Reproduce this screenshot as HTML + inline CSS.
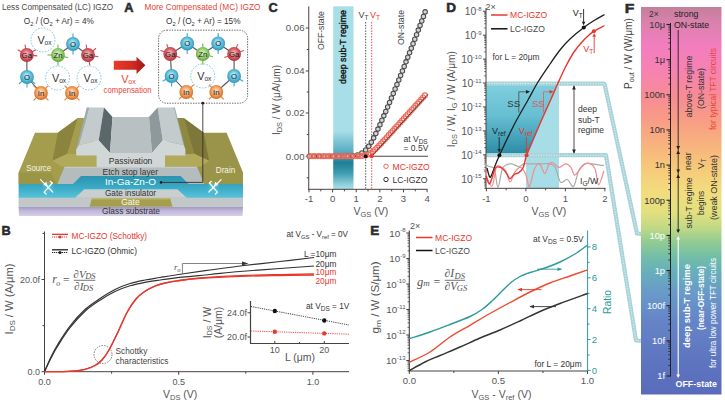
<!DOCTYPE html>
<html><head><meta charset="utf-8"><style>
html,body{margin:0;padding:0;background:#fff;width:725px;height:400px;overflow:hidden}
svg{display:block}
text{font-family:"Liberation Sans", sans-serif}
</style></head><body>
<svg width="725" height="400" viewBox="0 0 725 400">
<rect width="725" height="400" fill="#fff"/>
<defs>
<linearGradient id="gSub" x1="0" y1="0" x2="0" y2="1"><stop offset="0" stop-color="#9c94bc"/><stop offset="0.35" stop-color="#bab2d4"/><stop offset="1" stop-color="#d6d0e8"/></linearGradient>
<linearGradient id="gCy" x1="0" y1="0" x2="0" y2="1"><stop offset="0" stop-color="#2b93ae"/><stop offset="0.5" stop-color="#3aa9c4"/><stop offset="1" stop-color="#58c2da"/></linearGradient>
<radialGradient id="gGlow" cx="0.5" cy="0.5" r="0.5"><stop offset="0" stop-color="#7fe0ea" stop-opacity="0.9"/><stop offset="1" stop-color="#7fe0ea" stop-opacity="0"/></radialGradient>
</defs>
<path d="M18.60,206.60 L243.00,206.60 L242.50,216.00 L19.00,216.00 Z" fill="url(#gSub)" />
<path d="M18.60,197.00 L243.00,197.00 L243.00,206.80 L18.60,206.80 Z" fill="#c2c8c8" />
<path d="M73.00,197.00 L81.00,189.50 L180.60,189.50 L188.60,197.00 Z" fill="#c9cfcf" />
<path d="M89.50,206.80 L92.00,198.00 L170.00,198.00 L172.50,206.80 Z" fill="#a59e4f" />
<path d="M92.00,198.00 L170.00,198.00 L169.60,199.40 L92.40,199.40 Z" fill="#bdb66a" />
<path d="M50.00,184.00 L58.00,166.60 L203.60,166.60 L211.60,184.00 Z" fill="#b5bcbd" />
<path d="M64.60,166.60 L197.00,166.60 L196.40,168.00 L64.00,168.00 Z" fill="#c4cacb" />
<path d="M18.60,184.00 L73.00,184.00 L81.00,176.00 L180.60,176.00 L188.60,184.00 L243.00,184.00 L243.00,197.80 L186.60,197.80 L177.60,189.50 L84.00,189.50 L75.00,197.80 L18.60,197.80 Z" fill="url(#gCy)" />
<path d="M18.60,184.00 L18.60,172.50 L35.00,132.80 L57.80,132.80 L77.90,117.90 L90.00,117.90 L97.00,155.50 L97.00,166.60 L64.60,166.60 L57.40,184.00 Z" fill="#a39d4d" />
<path d="M18.60,184.00 L18.60,172.50 L50.50,172.50 L57.40,184.00 Z" fill="#9b9548" />
<path d="M57.80,132.80 L77.90,117.90 L67.40,153.80 L52.50,160.80 Z" fill="#8a843f" />
<path d="M77.90,117.90 L88.00,117.90 L88.00,155.50 L67.40,153.80 Z" fill="#a49d4f" />
<path d="M52.50,160.80 L67.40,153.80 L97.00,155.50 L97.00,166.60 L64.60,166.60 L61.00,166.60 Z" fill="#b2aa5b" />
<path d="M243.00,184.00 L243.00,172.50 L226.60,132.80 L203.80,132.80 L183.70,117.90 L171.60,117.90 L164.60,155.50 L164.60,166.60 L197.00,166.60 L204.20,184.00 Z" fill="#9a944a" />
<path d="M243.00,184.00 L243.00,172.50 L211.10,172.50 L204.20,184.00 Z" fill="#9b9548" />
<path d="M203.80,132.80 L183.70,117.90 L194.20,153.80 L209.10,160.80 Z" fill="#7d7839" />
<path d="M183.70,117.90 L173.60,117.90 L173.60,155.50 L194.20,153.80 Z" fill="#8f893f" />
<path d="M209.10,160.80 L194.20,153.80 L164.60,155.50 L164.60,166.60 L197.00,166.60 L200.60,166.60 Z" fill="#b2aa5b" />
<path d="M86.70,107.50 L89.50,107.50 L79.00,149.40 L76.20,149.40 Z" fill="#9eaaae" />
<path d="M174.90,107.50 L172.10,107.50 L182.60,149.40 L185.40,149.40 Z" fill="#9eaaae" />
<path d="M89.50,107.50 L104.00,107.50 L98.70,140.50 L79.00,145.00 Z" fill="#c4cbcc" />
<path d="M157.60,107.50 L173.90,107.50 L183.50,145.00 L162.80,140.50 Z" fill="#c4cbcc" />
<path d="M104.00,107.50 L112.50,117.00 L110.00,153.00 L98.70,140.50 Z" fill="#5c6769" />
<path d="M112.50,117.00 L149.00,117.00 L152.00,153.00 L110.00,153.00 Z" fill="#b8c0c1" />
<path d="M149.00,117.00 L157.60,107.50 L162.80,140.50 L152.00,153.00 Z" fill="#8e999b" />
<path d="M79.00,145.00 L98.70,140.50 L110.00,153.00 L152.00,153.00 L162.80,140.50 L183.50,145.00 L185.40,149.40 L185.40,155.50 L165.00,155.50 L165.00,166.60 L96.60,166.60 L96.60,155.50 L76.20,155.50 L76.20,149.40 Z" fill="#d1d6d6" />
<text x="130.6" y="163.8" font-size="8.6" fill="#333" text-anchor="middle" textLength="43.5" lengthAdjust="spacingAndGlyphs" >Passivation</text>
<text x="130.3" y="174.5" font-size="8.6" fill="#333" text-anchor="middle" textLength="55.5" lengthAdjust="spacingAndGlyphs" >Etch stop layer</text>
<text x="130.5" y="185.2" font-size="9.6" fill="#fff" text-anchor="middle" textLength="51" lengthAdjust="spacingAndGlyphs" >In-Ga-Zn-O</text>
<text x="130.5" y="195.6" font-size="8.6" fill="#333" text-anchor="middle" textLength="51" lengthAdjust="spacingAndGlyphs" >Gate insulator</text>
<text x="130.4" y="205.2" font-size="8.8" fill="#fcfcf4" text-anchor="middle" textLength="18.5" lengthAdjust="spacingAndGlyphs" >Gate</text>
<text x="131" y="213.6" font-size="8.6" fill="#333" text-anchor="middle" textLength="58" lengthAdjust="spacingAndGlyphs" >Glass substrate</text>
<text x="38.7" y="171.3" font-size="8.6" fill="#f6f4e6" text-anchor="middle" textLength="25" lengthAdjust="spacingAndGlyphs" >Source</text>
<text x="225.5" y="172.5" font-size="8.6" fill="#f6f4e6" text-anchor="middle" textLength="19.5" lengthAdjust="spacingAndGlyphs" >Drain</text>
<circle cx="48.2" cy="187" r="7" fill="url(#gGlow)" opacity="0.5"/>
<line x1="40.5" y1="179.6" x2="52.8" y2="192" stroke="#fff" stroke-width="1.2" stroke-linecap="round"/>
<line x1="44.2" y1="192.2" x2="52.2" y2="183" stroke="#fff" stroke-width="1.2" stroke-linecap="round"/>
<line x1="52.2" y1="183" x2="50.3" y2="181.3" stroke="#fff" stroke-width="1.2" stroke-linecap="round"/>
<line x1="44.2" y1="192.2" x2="46.1" y2="194" stroke="#fff" stroke-width="1.2" stroke-linecap="round"/>
<path d="M47.90,186.40 L46.30,181.70 L43.20,184.90 Z" fill="#fff"/>
<circle cx="213.40000000000003" cy="187" r="7" fill="url(#gGlow)" opacity="0.5"/>
<line x1="221.10000000000002" y1="179.6" x2="208.8" y2="192" stroke="#fff" stroke-width="1.2" stroke-linecap="round"/>
<line x1="217.40000000000003" y1="192.2" x2="209.40000000000003" y2="183" stroke="#fff" stroke-width="1.2" stroke-linecap="round"/>
<line x1="209.40000000000003" y1="183" x2="211.3" y2="181.3" stroke="#fff" stroke-width="1.2" stroke-linecap="round"/>
<line x1="217.40000000000003" y1="192.2" x2="215.50000000000003" y2="194" stroke="#fff" stroke-width="1.2" stroke-linecap="round"/>
<path d="M213.70,186.40 L215.30,181.70 L218.40,184.90 Z" fill="#fff"/>
<text x="2" y="10.3" font-size="8.4" fill="#4a4a4a" textLength="111" lengthAdjust="spacingAndGlyphs" >Less Compensated (LC) IGZO</text>
<text x="124.3" y="12" font-size="13" fill="#2a2a2a" font-weight="bold" textLength="9.2" lengthAdjust="spacingAndGlyphs" stroke="#2a2a2a" stroke-width="0.55">A</text>
<text x="144.5" y="10.3" font-size="8.4" fill="#e8453a" textLength="116" lengthAdjust="spacingAndGlyphs" >More Compensated (MC) IGZO</text>
<text x="23.8" y="23.6" font-size="8.6" fill="#333" textLength="70" lengthAdjust="spacingAndGlyphs" >O<tspan dy="2" font-size="6">2</tspan><tspan dy="-2"> / (O</tspan><tspan dy="2" font-size="6">2</tspan><tspan dy="-2"> + Ar) = 4%</tspan></text>
<text x="166" y="23.6" font-size="8.6" fill="#333" textLength="74.5" lengthAdjust="spacingAndGlyphs" >O<tspan dy="2" font-size="6">2</tspan><tspan dy="-2"> / (O</tspan><tspan dy="2" font-size="6">2</tspan><tspan dy="-2"> + Ar) = 15%</tspan></text>
<defs><radialGradient id="atGa" cx="0.5" cy="0.46" r="0.56" fx="0.46" fy="0.4"><stop offset="0" stop-color="#f6c4c4"/><stop offset="0.55" stop-color="#d9646c"/><stop offset="1" stop-color="#ac2e36"/></radialGradient><radialGradient id="atO" cx="0.5" cy="0.46" r="0.56" fx="0.46" fy="0.4"><stop offset="0" stop-color="#d4f5fb"/><stop offset="0.55" stop-color="#62c2de"/><stop offset="1" stop-color="#2a8fb2"/></radialGradient><radialGradient id="atZn" cx="0.5" cy="0.46" r="0.56" fx="0.46" fy="0.4"><stop offset="0" stop-color="#e4f6cc"/><stop offset="0.55" stop-color="#9cd274"/><stop offset="1" stop-color="#5a9e36"/></radialGradient><radialGradient id="atIn" cx="0.5" cy="0.46" r="0.56" fx="0.46" fy="0.4"><stop offset="0" stop-color="#fee2c8"/><stop offset="0.55" stop-color="#f3a464"/><stop offset="1" stop-color="#cf641c"/></radialGradient>
<linearGradient id="gArrow" x1="0" y1="0" x2="1" y2="0"><stop offset="0" stop-color="#ea3a2a"/><stop offset="0.6" stop-color="#d02a22"/><stop offset="1" stop-color="#a01616"/></linearGradient>
</defs>
<line x1="26.8" y1="55" x2="27" y2="77" stroke="#555" stroke-width="1.1" />
<line x1="27" y1="77" x2="41" y2="93" stroke="#555" stroke-width="1.1" />
<line x1="58" y1="55" x2="73" y2="44" stroke="#555" stroke-width="1.1" />
<line x1="73" y1="44" x2="88" y2="55" stroke="#555" stroke-width="1.1" />
<circle cx="43" cy="40" r="12" fill="none" stroke="#6cc0dc" stroke-width="0.9" stroke-dasharray="1.6,1.4"/>
<text x="37.5" y="43.6" font-size="10.8" fill="#333" >V</text>
<text x="44.6" y="45.2" font-size="6.6" fill="#333" >ox</text>
<circle cx="57.6" cy="78" r="12" fill="none" stroke="#6cc0dc" stroke-width="0.9" stroke-dasharray="1.6,1.4"/>
<text x="52.1" y="81.6" font-size="10.8" fill="#333" >V</text>
<text x="59.2" y="83.2" font-size="6.6" fill="#333" >ox</text>
<circle cx="89" cy="78" r="12" fill="none" stroke="#6cc0dc" stroke-width="0.9" stroke-dasharray="1.6,1.4"/>
<text x="83.5" y="81.6" font-size="10.8" fill="#333" >V</text>
<text x="90.6" y="83.2" font-size="6.6" fill="#333" >ox</text>
<line x1="25.96127930186873" y1="50.243378552951036" x2="24.976694134497233" y2="44.659518593371814" stroke="#d84850" stroke-width="1.1" />
<line x1="22.617097299721163" y1="52.585" x2="17.706733260263395" y2="49.75" stroke="#d84850" stroke-width="1.1" />
<line x1="30.98290270027884" y1="52.585" x2="35.8932667397366" y2="49.75" stroke="#d84850" stroke-width="1.1" />
<line x1="31.61162039178313" y1="55.42096223747119" x2="37.26004432996333" y2="55.91513529885041" stroke="#d84850" stroke-width="1.1" />
<circle cx="26.8" cy="55" r="6.9" fill="url(#atGa)"/>
<text x="26.8" y="57.8" font-size="7.8" fill="#1a1a1a" text-anchor="middle" >Ga</text>
<line x1="58.0" y1="50.17" x2="58.0" y2="44.5" stroke="#72b844" stroke-width="1.1" />
<line x1="58.0" y1="59.83" x2="58.0" y2="65.5" stroke="#72b844" stroke-width="1.1" />
<line x1="62.6654217409762" y1="56.25009598784518" x2="68.14222117603522" y2="57.71759997357647" stroke="#72b844" stroke-width="1.1" />
<line x1="53.17" y1="55.0" x2="47.5" y2="55.0" stroke="#72b844" stroke-width="1.1" />
<circle cx="58" cy="55" r="6.9" fill="url(#atZn)"/>
<text x="58" y="57.8" font-size="7.8" fill="#1a1a1a" text-anchor="middle" >Zn</text>
<line x1="73.0" y1="39.17" x2="73.0" y2="33.5" stroke="#3aaad0" stroke-width="1.1" />
<line x1="73.0" y1="48.83" x2="73.0" y2="54.5" stroke="#3aaad0" stroke-width="1.1" />
<circle cx="73" cy="44" r="6.9" fill="url(#atO)"/>
<text x="73" y="46.8" font-size="7.8" fill="#1a1a1a" text-anchor="middle" >O</text>
<line x1="87.16127930186873" y1="50.243378552951036" x2="86.17669413449723" y2="44.659518593371814" stroke="#d84850" stroke-width="1.1" />
<line x1="91.69999466026466" y1="51.895335845214014" x2="96.04346665274927" y2="48.250730098291335" stroke="#d84850" stroke-width="1.1" />
<line x1="92.75662144704897" y1="55.838720698131276" x2="98.34048140662819" y2="56.82330586550277" stroke="#d84850" stroke-width="1.1" />
<line x1="88.83872069813127" y1="59.756621447048964" x2="89.82330586550277" y2="65.34048140662819" stroke="#d84850" stroke-width="1.1" />
<circle cx="88" cy="55" r="6.9" fill="url(#atGa)"/>
<text x="88" y="57.8" font-size="7.8" fill="#1a1a1a" text-anchor="middle" >Ga</text>
<line x1="27.0" y1="81.83" x2="27.0" y2="87.5" stroke="#3aaad0" stroke-width="1.1" />
<line x1="23.300005339735335" y1="80.10466415478598" x2="18.956533347250733" y2="83.74926990170866" stroke="#3aaad0" stroke-width="1.1" />
<line x1="30.699994660264665" y1="80.10466415478598" x2="35.04346665274927" y2="83.74926990170866" stroke="#3aaad0" stroke-width="1.1" />
<circle cx="27" cy="77" r="6.9" fill="url(#atO)"/>
<text x="27" y="79.8" font-size="7.8" fill="#1a1a1a" text-anchor="middle" >O</text>
<line x1="44.41532575313102" y1="89.58467424686897" x2="48.42462120245875" y2="85.57537879754125" stroke="#f07a2a" stroke-width="1.1" />
<line x1="37.58467424686898" y1="96.41532575313103" x2="33.57537879754125" y2="100.42462120245875" stroke="#f07a2a" stroke-width="1.1" />
<line x1="44.41532575313102" y1="96.41532575313103" x2="48.42462120245875" y2="100.42462120245875" stroke="#f07a2a" stroke-width="1.1" />
<line x1="37.58467424686898" y1="89.58467424686897" x2="33.57537879754125" y2="85.57537879754125" stroke="#f07a2a" stroke-width="1.1" />
<circle cx="41" cy="93" r="6.9" fill="url(#atIn)"/>
<text x="41" y="95.8" font-size="7.8" fill="#1a1a1a" text-anchor="middle" >In</text>
<line x1="75.41532575313103" y1="89.58467424686897" x2="79.42462120245875" y2="85.57537879754125" stroke="#f07a2a" stroke-width="1.1" />
<line x1="68.58467424686897" y1="96.41532575313103" x2="64.57537879754125" y2="100.42462120245875" stroke="#f07a2a" stroke-width="1.1" />
<line x1="75.41532575313103" y1="96.41532575313103" x2="79.42462120245875" y2="100.42462120245875" stroke="#f07a2a" stroke-width="1.1" />
<line x1="68.58467424686897" y1="89.58467424686897" x2="64.57537879754125" y2="85.57537879754125" stroke="#f07a2a" stroke-width="1.1" />
<circle cx="72" cy="93" r="6.9" fill="url(#atIn)"/>
<text x="72" y="95.8" font-size="7.8" fill="#1a1a1a" text-anchor="middle" >In</text>
<path d="M113.8,60.8 L136.5,60.8 L136.5,56.7 L145.4,65.3 L136.5,73.9 L136.5,69.8 L113.8,69.8 Z" fill="url(#gArrow)"/>
<text x="121.3" y="82.5" font-size="11" fill="#e8453a" >V</text>
<text x="128.3" y="84.3" font-size="7" fill="#e8453a" >ox</text>
<text x="127.6" y="92.6" font-size="8.6" fill="#e8453a" text-anchor="middle" textLength="48" lengthAdjust="spacingAndGlyphs" >compensation</text>
<rect x="158.6" y="30.2" width="89" height="73" rx="8" fill="none" stroke="#555" stroke-width="0.9" stroke-dasharray="1.4,1.2"/>
<line x1="170.3" y1="54" x2="187.2" y2="43.5" stroke="#555" stroke-width="1.1" />
<line x1="187.2" y1="43.5" x2="202.8" y2="54" stroke="#555" stroke-width="1.1" />
<line x1="202.8" y1="54" x2="218.2" y2="43.5" stroke="#555" stroke-width="1.1" />
<line x1="218.2" y1="43.5" x2="234.1" y2="54" stroke="#555" stroke-width="1.1" />
<line x1="170.3" y1="54" x2="171.6" y2="76" stroke="#555" stroke-width="1.1" />
<line x1="171.6" y1="76" x2="186.3" y2="92" stroke="#555" stroke-width="1.1" />
<line x1="234.1" y1="54" x2="234.1" y2="76" stroke="#555" stroke-width="1.1" />
<line x1="234.1" y1="76" x2="216.3" y2="92" stroke="#555" stroke-width="1.1" />
<circle cx="202.8" cy="76" r="12" fill="none" stroke="#6cc0dc" stroke-width="0.9" stroke-dasharray="1.6,1.4"/>
<text x="197.3" y="79.6" font-size="10.8" fill="#333" >V</text>
<text x="204.4" y="81.2" font-size="6.6" fill="#333" >ox</text>
<line x1="168.64804270773703" y1="49.46128464160406" x2="166.70878849508048" y2="44.133227481747966" stroke="#d84850" stroke-width="1.1" />
<line x1="165.76128464160408" y1="52.34804270773702" x2="160.43322748174796" y2="50.40878849508048" stroke="#d84850" stroke-width="1.1" />
<line x1="174.83871535839594" y1="55.65195729226298" x2="180.16677251825206" y2="57.59121150491952" stroke="#d84850" stroke-width="1.1" />
<circle cx="170.3" cy="54" r="6.9" fill="url(#atGa)"/>
<text x="170.3" y="56.8" font-size="7.8" fill="#1a1a1a" text-anchor="middle" >Ga</text>
<line x1="187.2" y1="38.67" x2="187.2" y2="33.0" stroke="#3aaad0" stroke-width="1.1" />
<line x1="187.2" y1="48.33" x2="187.2" y2="54.0" stroke="#3aaad0" stroke-width="1.1" />
<circle cx="187.2" cy="43.5" r="6.9" fill="url(#atO)"/>
<text x="187.2" y="46.3" font-size="7.8" fill="#1a1a1a" text-anchor="middle" >O</text>
<line x1="202.8" y1="49.17" x2="202.8" y2="43.5" stroke="#72b844" stroke-width="1.1" />
<line x1="202.8" y1="58.83" x2="202.8" y2="64.5" stroke="#72b844" stroke-width="1.1" />
<line x1="207.4654217409762" y1="55.25009598784518" x2="212.94222117603522" y2="56.71759997357647" stroke="#72b844" stroke-width="1.1" />
<circle cx="202.8" cy="54" r="6.9" fill="url(#atZn)"/>
<text x="202.8" y="56.8" font-size="7.8" fill="#1a1a1a" text-anchor="middle" >Zn</text>
<line x1="218.2" y1="38.67" x2="218.2" y2="33.0" stroke="#3aaad0" stroke-width="1.1" />
<line x1="218.2" y1="48.33" x2="218.2" y2="54.0" stroke="#3aaad0" stroke-width="1.1" />
<circle cx="218.2" cy="43.5" r="6.9" fill="url(#atO)"/>
<text x="218.2" y="46.3" font-size="7.8" fill="#1a1a1a" text-anchor="middle" >O</text>
<line x1="235.75195729226297" y1="49.46128464160407" x2="237.69121150491952" y2="44.133227481747966" stroke="#d84850" stroke-width="1.1" />
<line x1="238.63871535839593" y1="52.34804270773702" x2="243.96677251825204" y2="50.40878849508048" stroke="#d84850" stroke-width="1.1" />
<line x1="229.56128464160406" y1="55.65195729226298" x2="224.23322748174795" y2="57.59121150491952" stroke="#d84850" stroke-width="1.1" />
<circle cx="234.1" cy="54" r="6.9" fill="url(#atGa)"/>
<text x="234.1" y="56.8" font-size="7.8" fill="#1a1a1a" text-anchor="middle" >Ga</text>
<line x1="171.6" y1="80.83" x2="171.6" y2="86.5" stroke="#3aaad0" stroke-width="1.1" />
<line x1="167.41709729972115" y1="78.415" x2="162.5067332602634" y2="81.25" stroke="#3aaad0" stroke-width="1.1" />
<circle cx="171.6" cy="76" r="6.9" fill="url(#atO)"/>
<text x="171.6" y="78.8" font-size="7.8" fill="#1a1a1a" text-anchor="middle" >O</text>
<line x1="234.1" y1="80.83" x2="234.1" y2="86.5" stroke="#3aaad0" stroke-width="1.1" />
<line x1="238.28290270027884" y1="78.415" x2="243.1932667397366" y2="81.25" stroke="#3aaad0" stroke-width="1.1" />
<circle cx="234.1" cy="76" r="6.9" fill="url(#atO)"/>
<text x="234.1" y="78.8" font-size="7.8" fill="#1a1a1a" text-anchor="middle" >O</text>
<line x1="189.71532575313103" y1="88.58467424686897" x2="193.72462120245876" y2="84.57537879754125" stroke="#f07a2a" stroke-width="1.1" />
<line x1="182.884674246869" y1="95.41532575313103" x2="178.87537879754126" y2="99.42462120245875" stroke="#f07a2a" stroke-width="1.1" />
<line x1="189.71532575313103" y1="95.41532575313103" x2="193.72462120245876" y2="99.42462120245875" stroke="#f07a2a" stroke-width="1.1" />
<circle cx="186.3" cy="92" r="6.9" fill="url(#atIn)"/>
<text x="186.3" y="94.8" font-size="7.8" fill="#1a1a1a" text-anchor="middle" >In</text>
<line x1="212.884674246869" y1="88.58467424686897" x2="208.87537879754126" y2="84.57537879754125" stroke="#f07a2a" stroke-width="1.1" />
<line x1="219.71532575313103" y1="95.41532575313103" x2="223.72462120245876" y2="99.42462120245875" stroke="#f07a2a" stroke-width="1.1" />
<line x1="212.884674246869" y1="95.41532575313103" x2="208.87537879754126" y2="99.42462120245875" stroke="#f07a2a" stroke-width="1.1" />
<circle cx="216.3" cy="92" r="6.9" fill="url(#atIn)"/>
<text x="216.3" y="94.8" font-size="7.8" fill="#1a1a1a" text-anchor="middle" >In</text>
<circle cx="202.8" cy="103.2" r="1.4" fill="#222"/>
<path d="M202.8,103.5 L202.8,182.4 L161,182.4" fill="none" stroke="#3a3030" stroke-width="0.9"/>
<circle cx="161" cy="182.4" r="1.3" fill="#222"/>
<text x="1.5" y="234.5" font-size="13.5" fill="#2a2a2a" font-weight="bold" textLength="9.2" lengthAdjust="spacingAndGlyphs" stroke="#2a2a2a" stroke-width="0.55">B</text>
<line x1="44.5" y1="231.5" x2="44.5" y2="372.2" stroke="#4a4040" stroke-width="1" />
<line x1="44.0" y1="371.7" x2="349" y2="371.7" stroke="#4a4040" stroke-width="1" />
<line x1="41.5" y1="371.7" x2="44.5" y2="371.7" stroke="#4a4040" stroke-width="1" />
<line x1="42.5" y1="325.6" x2="44.5" y2="325.6" stroke="#4a4040" stroke-width="1" />
<line x1="41.5" y1="279.5" x2="44.5" y2="279.5" stroke="#4a4040" stroke-width="1" />
<line x1="42.5" y1="233.4" x2="44.5" y2="233.4" stroke="#4a4040" stroke-width="1" />
<line x1="44.5" y1="371.7" x2="44.5" y2="374.7" stroke="#4a4040" stroke-width="1" />
<line x1="111.6" y1="371.7" x2="111.6" y2="373.7" stroke="#4a4040" stroke-width="1" />
<line x1="178.7" y1="371.7" x2="178.7" y2="374.7" stroke="#4a4040" stroke-width="1" />
<line x1="245.8" y1="371.7" x2="245.8" y2="373.7" stroke="#4a4040" stroke-width="1" />
<line x1="312.9" y1="371.7" x2="312.9" y2="374.7" stroke="#4a4040" stroke-width="1" />
<text x="40" y="375" font-size="9" fill="#555" text-anchor="end" >0.0</text>
<text x="40" y="282.8" font-size="9" fill="#555" text-anchor="end" >20.0f</text>
<text x="44.5" y="385" font-size="9" fill="#555" text-anchor="middle" >0.0</text>
<text x="178.7" y="385" font-size="9" fill="#555" text-anchor="middle" >0.5</text>
<text x="312.9" y="385" font-size="9" fill="#555" text-anchor="middle" >1.0</text>
<text x="163" y="397.5" font-size="10.5" fill="#555" >V<tspan dy="2" font-size="7.5">DS</tspan><tspan dy="-2"> (V)</tspan></text>
<text x="13.2" y="299" font-size="10.5" fill="#555" text-anchor="middle" textLength="71" lengthAdjust="spacingAndGlyphs" transform="rotate(-90 13.2 299)" >I<tspan dy="2" font-size="7.5">DS</tspan><tspan dy="-2"> / W (A/μm)</tspan></text>
<line x1="52" y1="234.3" x2="68" y2="234.3" stroke="#e8372c" stroke-width="1.3" />
<line x1="52" y1="237" x2="68" y2="237" stroke="#e8372c" stroke-width="1" stroke-dasharray="1.2,0.8"/>
<circle cx="60" cy="237" r="1.6" fill="#e8372c"/>
<text x="71.5" y="238.8" font-size="8.3" fill="#e8372c" >MC-IGZO (Schottky)</text>
<line x1="52" y1="249.8" x2="68" y2="249.8" stroke="#222" stroke-width="1.3" />
<line x1="52" y1="252.5" x2="68" y2="252.5" stroke="#222" stroke-width="1" stroke-dasharray="1.2,0.8"/>
<circle cx="60" cy="252.5" r="1.6" fill="#222"/>
<text x="71.5" y="254.3" font-size="8.3" fill="#333" >LC-IGZO (Ohmic)</text>
<text x="52.3" y="283.3" font-size="12" fill="#555" font-style="italic" style="font-family:'Liberation Serif', serif" >r</text>
<text x="56.3" y="285.5" font-size="8" fill="#555" font-style="italic" style="font-family:'Liberation Serif', serif" >o</text>
<text x="63" y="284" font-size="11.5" fill="#555" style="font-family:'Liberation Serif', serif" >=</text>
<text x="73.6" y="277.7" font-size="11" fill="#555" font-style="italic" style="font-family:'Liberation Serif', serif" >∂V</text>
<text x="85.2" y="279.2" font-size="8.5" fill="#555" font-style="italic" style="font-family:'Liberation Serif', serif" >DS</text>
<line x1="73.8" y1="280.3" x2="95.3" y2="280.3" stroke="#666" stroke-width="0.9" />
<text x="74.3" y="289.8" font-size="11" fill="#555" font-style="italic" style="font-family:'Liberation Serif', serif" >∂I</text>
<text x="82.8" y="291.4" font-size="8.5" fill="#555" font-style="italic" style="font-family:'Liberation Serif', serif" >DS</text>
<path d="M44.50,371.70 C45.58,369.25 48.75,361.62 51.00,357.00 C53.25,352.38 54.83,349.17 58.00,344.00 C61.17,338.83 65.50,331.75 70.00,326.00 C74.50,320.25 80.00,314.08 85.00,309.50 C90.00,304.92 95.00,301.83 100.00,298.50 C105.00,295.17 110.00,292.00 115.00,289.50 C120.00,287.00 125.00,285.08 130.00,283.50 C135.00,281.92 140.00,281.00 145.00,280.00 C150.00,279.00 153.83,278.50 160.00,277.50 C166.17,276.50 173.67,275.25 182.00,274.00 C190.33,272.75 200.33,271.33 210.00,270.00 C219.67,268.67 228.33,267.42 240.00,266.00 C251.67,264.58 267.67,262.92 280.00,261.50 C292.33,260.08 308.33,258.17 314.00,257.50" fill="none" stroke="#333" stroke-width="1.2"/>
<path d="M44.50,371.70 C45.58,369.42 48.75,362.37 51.00,358.00 C53.25,353.63 54.83,350.55 58.00,345.50 C61.17,340.45 65.50,333.42 70.00,327.70 C74.50,321.98 80.00,315.78 85.00,311.20 C90.00,306.62 95.00,303.48 100.00,300.20 C105.00,296.92 110.00,293.90 115.00,291.50 C120.00,289.10 125.00,287.33 130.00,285.80 C135.00,284.27 140.00,283.27 145.00,282.30 C150.00,281.33 153.83,280.85 160.00,280.00 C166.17,279.15 173.67,278.12 182.00,277.20 C190.33,276.28 200.33,275.45 210.00,274.50 C219.67,273.55 228.33,272.50 240.00,271.50 C251.67,270.50 267.67,269.42 280.00,268.50 C292.33,267.58 308.33,266.42 314.00,266.00" fill="none" stroke="#333" stroke-width="1.2"/>
<path d="M44.50,371.70 C47.08,371.68 55.42,371.68 60.00,371.60 C64.58,371.52 67.83,371.57 72.00,371.20 C76.17,370.83 81.17,370.35 85.00,369.40 C88.83,368.45 92.17,367.07 95.00,365.50 C97.83,363.93 99.67,362.58 102.00,360.00 C104.33,357.42 106.33,354.67 109.00,350.00 C111.67,345.33 115.00,338.25 118.00,332.00 C121.00,325.75 124.00,318.00 127.00,312.50 C130.00,307.00 133.00,302.53 136.00,299.00 C139.00,295.47 141.83,293.47 145.00,291.30 C148.17,289.13 151.67,287.38 155.00,286.00 C158.33,284.62 161.17,283.90 165.00,283.00 C168.83,282.10 172.17,281.43 178.00,280.60 C183.83,279.77 189.67,278.82 200.00,278.00 C210.33,277.18 226.67,276.27 240.00,275.70 C253.33,275.13 267.67,274.88 280.00,274.60 C292.33,274.32 308.33,274.10 314.00,274.00" fill="none" stroke="#e8372c" stroke-width="1.3"/>
<path d="M44.50,371.70 C47.08,371.68 55.42,371.68 60.00,371.60 C64.58,371.52 67.83,371.57 72.00,371.20 C76.17,370.83 81.17,370.35 85.00,369.40 C88.83,368.45 92.17,367.07 95.00,365.50 C97.83,363.93 99.67,362.58 102.00,360.00 C104.33,357.42 106.33,354.67 109.00,350.00 C111.67,345.33 115.00,338.25 118.00,332.00 C121.00,325.75 124.00,318.00 127.00,312.50 C130.00,307.00 133.00,302.53 136.00,299.00 C139.00,295.47 141.83,293.46 145.00,291.30 C148.17,289.14 151.67,287.40 155.00,286.04 C158.33,284.67 161.17,283.98 165.00,283.11 C168.83,282.24 172.17,281.60 178.00,280.80 C183.83,280.01 189.67,279.11 200.00,278.37 C210.33,277.62 226.67,276.83 240.00,276.36 C253.33,275.89 267.67,275.74 280.00,275.55 C292.33,275.36 308.33,275.26 314.00,275.20" fill="none" stroke="#e8372c" stroke-width="1.3"/>
<path d="M182.4,273.8 L182.4,263.5 L246,263.5" fill="none" stroke="#666" stroke-width="0.8"/>
<path d="M242,261.6 L248.5,263.5 L242,265.4 Z" fill="#333"/>
<text x="174" y="269.5" font-size="9" fill="#555" font-style="italic" style="font-family:'Liberation Serif', serif" >r</text>
<text x="177.3" y="271.8" font-size="6.5" fill="#555" font-style="italic" style="font-family:'Liberation Serif', serif" >o</text>
<text x="304" y="256.8" font-size="8.3" fill="#333" >L =10μm</text>
<text x="315.5" y="267" font-size="8.3" fill="#333" >20μm</text>
<text x="315.5" y="275.2" font-size="8.3" fill="#e8372c" >10μm</text>
<text x="315.5" y="283.5" font-size="8.3" fill="#e8372c" >20μm</text>
<text x="286.5" y="237" font-size="8.3" fill="#333" textLength="61.5" lengthAdjust="spacingAndGlyphs" >at V<tspan dy="2" font-size="6">GS</tspan><tspan dy="-2"> - V</tspan><tspan dy="2" font-size="6">ref</tspan><tspan dy="-2"> = 0V</tspan></text>
<circle cx="103" cy="354.5" r="9" fill="none" stroke="#555" stroke-width="0.8" stroke-dasharray="1.5,1.2"/>
<text x="115.5" y="354" font-size="8.3" fill="#444" >Schottky</text>
<text x="115.5" y="364" font-size="8.3" fill="#444" >characteristics</text>
<line x1="250.5" y1="301" x2="250.5" y2="344.0" stroke="#4a4040" stroke-width="1.2" />
<line x1="250.0" y1="343.5" x2="349" y2="343.5" stroke="#4a4040" stroke-width="1.2" />
<line x1="247.5" y1="312.8" x2="250.5" y2="312.8" stroke="#4a4040" stroke-width="1" />
<line x1="247.5" y1="337" x2="250.5" y2="337" stroke="#4a4040" stroke-width="1" />
<line x1="274.8" y1="341.0" x2="274.8" y2="343.5" stroke="#4a4040" stroke-width="1" />
<line x1="324.3" y1="341.0" x2="324.3" y2="343.5" stroke="#4a4040" stroke-width="1" />
<line x1="299.5" y1="342.0" x2="299.5" y2="343.5" stroke="#4a4040" stroke-width="1" />
<text x="247" y="316" font-size="9" fill="#555" text-anchor="end" >24.0f</text>
<text x="247" y="340.2" font-size="9" fill="#555" text-anchor="end" >20.0f</text>
<text x="274.8" y="353" font-size="9" fill="#555" text-anchor="middle" >10</text>
<text x="324.3" y="353" font-size="9" fill="#555" text-anchor="middle" >20</text>
<text x="300" y="361" font-size="10.5" fill="#555" text-anchor="middle" >L (μm)</text>
<text x="210.5" y="322.5" font-size="10.5" fill="#555" text-anchor="middle" transform="rotate(-90 210.5 322.5)" >I<tspan dy="1.5" font-size="7">DS</tspan><tspan dy="-1.5"> / W</tspan></text>
<text x="221.5" y="322.5" font-size="10.5" fill="#555" text-anchor="middle" transform="rotate(-90 221.5 322.5)" >(A/μm)</text>
<line x1="251" y1="306.5" x2="349" y2="325" stroke="#333" stroke-width="0.9" stroke-dasharray="1.2,1"/>
<line x1="251" y1="331" x2="349" y2="334.2" stroke="#e8372c" stroke-width="0.9" stroke-dasharray="1.2,1"/>
<circle cx="274.8" cy="311" r="2.2" fill="#111"/>
<circle cx="324.3" cy="320.5" r="2.2" fill="#111"/>
<circle cx="274.8" cy="331.8" r="2.2" fill="#e8372c"/>
<circle cx="324.3" cy="333.4" r="2.2" fill="#e8372c"/>
<text x="306" y="308.5" font-size="8.3" fill="#333" >at V<tspan dy="2" font-size="6.5">DS</tspan><tspan dy="-2"> = 1V</tspan></text>
<text x="268.6" y="11.8" font-size="13" fill="#2a2a2a" font-weight="bold" textLength="9.2" lengthAdjust="spacingAndGlyphs" stroke="#2a2a2a" stroke-width="0.55">C</text>
<defs><linearGradient id="gC" x1="0" y1="0" x2="0" y2="1" gradientUnits="objectBoundingBox">
<stop offset="0" stop-color="#a8dee7"/><stop offset="0.68" stop-color="#a8dee7"/>
<stop offset="0.79" stop-color="#5aafc4"/><stop offset="0.855" stop-color="#1f7f97"/>
<stop offset="0.91" stop-color="#3d9bb2"/><stop offset="0.985" stop-color="#9ed8e3"/><stop offset="1" stop-color="#a8dee7"/>
</linearGradient></defs>
<rect x="333.2" y="6.3" width="20.3" height="183.0" fill="url(#gC)"/>
<line x1="308.75" y1="6.4" x2="308.75" y2="189.8" stroke="#4a4040" stroke-width="1" />
<line x1="308.25" y1="189.3" x2="427.5" y2="189.3" stroke="#4a4040" stroke-width="1" />
<line x1="305.75" y1="28" x2="308.75" y2="28" stroke="#4a4040" stroke-width="1" />
<line x1="306.75" y1="49.5" x2="308.75" y2="49.5" stroke="#4a4040" stroke-width="1" />
<line x1="305.75" y1="71" x2="308.75" y2="71" stroke="#4a4040" stroke-width="1" />
<line x1="306.75" y1="92" x2="308.75" y2="92" stroke="#4a4040" stroke-width="1" />
<line x1="305.75" y1="113" x2="308.75" y2="113" stroke="#4a4040" stroke-width="1" />
<line x1="306.75" y1="134.6" x2="308.75" y2="134.6" stroke="#4a4040" stroke-width="1" />
<line x1="305.75" y1="156.25" x2="308.75" y2="156.25" stroke="#4a4040" stroke-width="1" />
<line x1="306.75" y1="177.8" x2="308.75" y2="177.8" stroke="#4a4040" stroke-width="1" />
<line x1="308.98" y1="189.3" x2="308.98" y2="192.3" stroke="#4a4040" stroke-width="1" />
<line x1="320.79" y1="189.3" x2="320.79" y2="191.3" stroke="#4a4040" stroke-width="1" />
<line x1="332.6" y1="189.3" x2="332.6" y2="192.3" stroke="#4a4040" stroke-width="1" />
<line x1="344.41" y1="189.3" x2="344.41" y2="191.3" stroke="#4a4040" stroke-width="1" />
<line x1="356.22" y1="189.3" x2="356.22" y2="192.3" stroke="#4a4040" stroke-width="1" />
<line x1="368.03000000000003" y1="189.3" x2="368.03000000000003" y2="191.3" stroke="#4a4040" stroke-width="1" />
<line x1="379.84000000000003" y1="189.3" x2="379.84000000000003" y2="192.3" stroke="#4a4040" stroke-width="1" />
<line x1="391.65000000000003" y1="189.3" x2="391.65000000000003" y2="191.3" stroke="#4a4040" stroke-width="1" />
<line x1="403.46000000000004" y1="189.3" x2="403.46000000000004" y2="192.3" stroke="#4a4040" stroke-width="1" />
<line x1="415.27000000000004" y1="189.3" x2="415.27000000000004" y2="191.3" stroke="#4a4040" stroke-width="1" />
<line x1="427.08000000000004" y1="189.3" x2="427.08000000000004" y2="192.3" stroke="#4a4040" stroke-width="1" />
<text x="304.5" y="31.3" font-size="9.6" fill="#555" text-anchor="end" >0.06</text>
<text x="304.5" y="74.3" font-size="9.6" fill="#555" text-anchor="end" >0.04</text>
<text x="304.5" y="116.3" font-size="9.6" fill="#555" text-anchor="end" >0.02</text>
<text x="304.5" y="159.55" font-size="9.6" fill="#555" text-anchor="end" >0.00</text>
<text x="308.98" y="202" font-size="9.6" fill="#555" text-anchor="middle" >-1</text>
<text x="332.6" y="202" font-size="9.6" fill="#555" text-anchor="middle" >0</text>
<text x="356.22" y="202" font-size="9.6" fill="#555" text-anchor="middle" >1</text>
<text x="379.84000000000003" y="202" font-size="9.6" fill="#555" text-anchor="middle" >2</text>
<text x="403.46000000000004" y="202" font-size="9.6" fill="#555" text-anchor="middle" >3</text>
<text x="427.08000000000004" y="202" font-size="9.6" fill="#555" text-anchor="middle" >4</text>
<text x="353.5" y="214.5" font-size="10.5" fill="#555" >V<tspan dy="2" font-size="7.5">GS</tspan><tspan dy="-2"> (V)</tspan></text>
<text x="279.5" y="100" font-size="10.3" fill="#555" text-anchor="middle" textLength="70" lengthAdjust="spacingAndGlyphs" transform="rotate(-90 279.5 100)" >I<tspan dy="2" font-size="7.5">DS</tspan><tspan dy="-2"> / W (μA/μm)</tspan></text>
<text x="346.3" y="47" font-size="8.8" fill="#111" text-anchor="middle" textLength="74" lengthAdjust="spacingAndGlyphs" transform="rotate(-90 346.3 47)" stroke="#111" stroke-width="0.35">deep sub-T regime</text>
<text x="324.5" y="30.6" font-size="8.8" fill="#444" text-anchor="middle" textLength="39" lengthAdjust="spacingAndGlyphs" transform="rotate(-90 324.5 30.6)" >OFF-state</text>
<text x="403.5" y="27.5" font-size="8.8" fill="#444" text-anchor="middle" textLength="35" lengthAdjust="spacingAndGlyphs" transform="rotate(-90 403.5 27.5)" >ON-state</text>
<text x="358.5" y="18" font-size="9" fill="#444" >V<tspan dy="2" font-size="6.5">T</tspan></text>
<text x="370" y="18" font-size="9" fill="#e8372c" >V<tspan dy="2" font-size="6.5">T</tspan></text>
<line x1="365.7" y1="22" x2="365.7" y2="189.3" stroke="#444" stroke-width="0.9" stroke-dasharray="1.5,1.3"/>
<line x1="371.7" y1="22" x2="371.7" y2="189.3" stroke="#e8372c" stroke-width="0.9" stroke-dasharray="1.5,1.3"/>
<circle cx="309.50" cy="156.25" r="2.25" fill="#d2d2d2" fill-opacity="0.9" stroke="#4a4a4a" stroke-width="1.05"/>
<circle cx="314.30" cy="156.25" r="2.25" fill="#d2d2d2" fill-opacity="0.9" stroke="#4a4a4a" stroke-width="1.05"/>
<circle cx="319.10" cy="156.25" r="2.25" fill="#d2d2d2" fill-opacity="0.9" stroke="#4a4a4a" stroke-width="1.05"/>
<circle cx="323.90" cy="156.25" r="2.25" fill="#d2d2d2" fill-opacity="0.9" stroke="#4a4a4a" stroke-width="1.05"/>
<circle cx="328.70" cy="156.25" r="2.25" fill="#d2d2d2" fill-opacity="0.9" stroke="#4a4a4a" stroke-width="1.05"/>
<circle cx="333.50" cy="156.24" r="2.25" fill="#d2d2d2" fill-opacity="0.9" stroke="#4a4a4a" stroke-width="1.05"/>
<circle cx="338.30" cy="156.23" r="2.25" fill="#d2d2d2" fill-opacity="0.9" stroke="#4a4a4a" stroke-width="1.05"/>
<circle cx="343.10" cy="156.19" r="2.25" fill="#d2d2d2" fill-opacity="0.9" stroke="#4a4a4a" stroke-width="1.05"/>
<circle cx="347.90" cy="156.08" r="2.25" fill="#d2d2d2" fill-opacity="0.9" stroke="#4a4a4a" stroke-width="1.05"/>
<circle cx="352.70" cy="155.77" r="2.25" fill="#d2d2d2" fill-opacity="0.9" stroke="#4a4a4a" stroke-width="1.05"/>
<circle cx="357.45" cy="154.94" r="2.25" fill="#d2d2d2" fill-opacity="0.9" stroke="#4a4a4a" stroke-width="1.05"/>
<circle cx="361.90" cy="153.05" r="2.25" fill="#d2d2d2" fill-opacity="0.9" stroke="#4a4a4a" stroke-width="1.05"/>
<circle cx="365.65" cy="149.99" r="2.25" fill="#d2d2d2" fill-opacity="0.9" stroke="#4a4a4a" stroke-width="1.05"/>
<circle cx="368.70" cy="146.23" r="2.25" fill="#d2d2d2" fill-opacity="0.9" stroke="#4a4a4a" stroke-width="1.05"/>
<circle cx="371.30" cy="142.15" r="2.25" fill="#d2d2d2" fill-opacity="0.9" stroke="#4a4a4a" stroke-width="1.05"/>
<circle cx="373.65" cy="137.89" r="2.25" fill="#d2d2d2" fill-opacity="0.9" stroke="#4a4a4a" stroke-width="1.05"/>
<circle cx="375.85" cy="133.52" r="2.25" fill="#d2d2d2" fill-opacity="0.9" stroke="#4a4a4a" stroke-width="1.05"/>
<circle cx="377.95" cy="129.10" r="2.25" fill="#d2d2d2" fill-opacity="0.9" stroke="#4a4a4a" stroke-width="1.05"/>
<circle cx="379.95" cy="124.72" r="2.25" fill="#d2d2d2" fill-opacity="0.9" stroke="#4a4a4a" stroke-width="1.05"/>
<circle cx="381.90" cy="120.33" r="2.25" fill="#d2d2d2" fill-opacity="0.9" stroke="#4a4a4a" stroke-width="1.05"/>
<circle cx="383.85" cy="115.86" r="2.25" fill="#d2d2d2" fill-opacity="0.9" stroke="#4a4a4a" stroke-width="1.05"/>
<circle cx="385.75" cy="111.43" r="2.25" fill="#d2d2d2" fill-opacity="0.9" stroke="#4a4a4a" stroke-width="1.05"/>
<circle cx="387.65" cy="106.95" r="2.25" fill="#d2d2d2" fill-opacity="0.9" stroke="#4a4a4a" stroke-width="1.05"/>
<circle cx="389.55" cy="102.43" r="2.25" fill="#d2d2d2" fill-opacity="0.9" stroke="#4a4a4a" stroke-width="1.05"/>
<circle cx="391.40" cy="97.99" r="2.25" fill="#d2d2d2" fill-opacity="0.9" stroke="#4a4a4a" stroke-width="1.05"/>
<circle cx="393.25" cy="93.52" r="2.25" fill="#d2d2d2" fill-opacity="0.9" stroke="#4a4a4a" stroke-width="1.05"/>
<circle cx="395.10" cy="89.01" r="2.25" fill="#d2d2d2" fill-opacity="0.9" stroke="#4a4a4a" stroke-width="1.05"/>
<circle cx="396.95" cy="84.47" r="2.25" fill="#d2d2d2" fill-opacity="0.9" stroke="#4a4a4a" stroke-width="1.05"/>
<circle cx="398.80" cy="79.91" r="2.25" fill="#d2d2d2" fill-opacity="0.9" stroke="#4a4a4a" stroke-width="1.05"/>
<circle cx="400.60" cy="75.44" r="2.25" fill="#d2d2d2" fill-opacity="0.9" stroke="#4a4a4a" stroke-width="1.05"/>
<circle cx="402.40" cy="70.94" r="2.25" fill="#d2d2d2" fill-opacity="0.9" stroke="#4a4a4a" stroke-width="1.05"/>
<circle cx="404.20" cy="66.42" r="2.25" fill="#d2d2d2" fill-opacity="0.9" stroke="#4a4a4a" stroke-width="1.05"/>
<circle cx="406.00" cy="61.87" r="2.25" fill="#d2d2d2" fill-opacity="0.9" stroke="#4a4a4a" stroke-width="1.05"/>
<circle cx="407.80" cy="57.30" r="2.25" fill="#d2d2d2" fill-opacity="0.9" stroke="#4a4a4a" stroke-width="1.05"/>
<circle cx="409.55" cy="52.83" r="2.25" fill="#d2d2d2" fill-opacity="0.9" stroke="#4a4a4a" stroke-width="1.05"/>
<circle cx="411.30" cy="48.33" r="2.25" fill="#d2d2d2" fill-opacity="0.9" stroke="#4a4a4a" stroke-width="1.05"/>
<circle cx="413.05" cy="43.81" r="2.25" fill="#d2d2d2" fill-opacity="0.9" stroke="#4a4a4a" stroke-width="1.05"/>
<circle cx="414.80" cy="39.26" r="2.25" fill="#d2d2d2" fill-opacity="0.9" stroke="#4a4a4a" stroke-width="1.05"/>
<circle cx="416.55" cy="34.70" r="2.25" fill="#d2d2d2" fill-opacity="0.9" stroke="#4a4a4a" stroke-width="1.05"/>
<circle cx="418.30" cy="30.10" r="2.25" fill="#d2d2d2" fill-opacity="0.9" stroke="#4a4a4a" stroke-width="1.05"/>
<circle cx="420.05" cy="25.48" r="2.25" fill="#d2d2d2" fill-opacity="0.9" stroke="#4a4a4a" stroke-width="1.05"/>
<circle cx="421.75" cy="20.98" r="2.25" fill="#d2d2d2" fill-opacity="0.9" stroke="#4a4a4a" stroke-width="1.05"/>
<circle cx="423.45" cy="16.44" r="2.25" fill="#d2d2d2" fill-opacity="0.9" stroke="#4a4a4a" stroke-width="1.05"/>
<circle cx="425.15" cy="11.89" r="2.25" fill="#d2d2d2" fill-opacity="0.9" stroke="#4a4a4a" stroke-width="1.05"/>
<circle cx="309.50" cy="156.25" r="2.5" fill="none" fill-opacity="0.9" stroke="#f06a5a" stroke-width="1.1"/>
<circle cx="312.30" cy="156.25" r="2.5" fill="none" fill-opacity="0.9" stroke="#f06a5a" stroke-width="1.1"/>
<circle cx="315.10" cy="156.25" r="2.5" fill="none" fill-opacity="0.9" stroke="#f06a5a" stroke-width="1.1"/>
<circle cx="317.90" cy="156.25" r="2.5" fill="none" fill-opacity="0.9" stroke="#f06a5a" stroke-width="1.1"/>
<circle cx="320.70" cy="156.25" r="2.5" fill="none" fill-opacity="0.9" stroke="#f06a5a" stroke-width="1.1"/>
<circle cx="323.50" cy="156.25" r="2.5" fill="none" fill-opacity="0.9" stroke="#f06a5a" stroke-width="1.1"/>
<circle cx="326.30" cy="156.25" r="2.5" fill="none" fill-opacity="0.9" stroke="#f06a5a" stroke-width="1.1"/>
<circle cx="329.10" cy="156.25" r="2.5" fill="none" fill-opacity="0.9" stroke="#f06a5a" stroke-width="1.1"/>
<circle cx="331.90" cy="156.25" r="2.5" fill="none" fill-opacity="0.9" stroke="#f06a5a" stroke-width="1.1"/>
<circle cx="334.70" cy="156.25" r="2.5" fill="none" fill-opacity="0.9" stroke="#f06a5a" stroke-width="1.1"/>
<circle cx="337.50" cy="156.25" r="2.5" fill="none" fill-opacity="0.9" stroke="#f06a5a" stroke-width="1.1"/>
<circle cx="340.30" cy="156.25" r="2.5" fill="none" fill-opacity="0.9" stroke="#f06a5a" stroke-width="1.1"/>
<circle cx="343.10" cy="156.25" r="2.5" fill="none" fill-opacity="0.9" stroke="#f06a5a" stroke-width="1.1"/>
<circle cx="345.90" cy="156.25" r="2.5" fill="none" fill-opacity="0.9" stroke="#f06a5a" stroke-width="1.1"/>
<circle cx="348.70" cy="156.24" r="2.5" fill="none" fill-opacity="0.9" stroke="#f06a5a" stroke-width="1.1"/>
<circle cx="351.50" cy="156.24" r="2.5" fill="none" fill-opacity="0.9" stroke="#f06a5a" stroke-width="1.1"/>
<circle cx="354.30" cy="156.22" r="2.5" fill="none" fill-opacity="0.9" stroke="#f06a5a" stroke-width="1.1"/>
<circle cx="357.10" cy="156.18" r="2.5" fill="none" fill-opacity="0.9" stroke="#f06a5a" stroke-width="1.1"/>
<circle cx="359.90" cy="156.08" r="2.5" fill="none" fill-opacity="0.9" stroke="#f06a5a" stroke-width="1.1"/>
<circle cx="362.70" cy="155.86" r="2.5" fill="none" fill-opacity="0.9" stroke="#f06a5a" stroke-width="1.1"/>
<circle cx="365.50" cy="155.39" r="2.5" fill="none" fill-opacity="0.9" stroke="#f06a5a" stroke-width="1.1"/>
<circle cx="368.20" cy="154.50" r="2.5" fill="none" fill-opacity="0.9" stroke="#f06a5a" stroke-width="1.1"/>
<circle cx="370.70" cy="153.15" r="2.5" fill="none" fill-opacity="0.9" stroke="#f06a5a" stroke-width="1.1"/>
<circle cx="373.00" cy="151.47" r="2.5" fill="none" fill-opacity="0.9" stroke="#f06a5a" stroke-width="1.1"/>
<circle cx="375.15" cy="149.57" r="2.5" fill="none" fill-opacity="0.9" stroke="#f06a5a" stroke-width="1.1"/>
<circle cx="377.20" cy="147.58" r="2.5" fill="none" fill-opacity="0.9" stroke="#f06a5a" stroke-width="1.1"/>
<circle cx="379.20" cy="145.52" r="2.5" fill="none" fill-opacity="0.9" stroke="#f06a5a" stroke-width="1.1"/>
<circle cx="381.15" cy="143.45" r="2.5" fill="none" fill-opacity="0.9" stroke="#f06a5a" stroke-width="1.1"/>
<circle cx="383.10" cy="141.35" r="2.5" fill="none" fill-opacity="0.9" stroke="#f06a5a" stroke-width="1.1"/>
<circle cx="385.00" cy="139.28" r="2.5" fill="none" fill-opacity="0.9" stroke="#f06a5a" stroke-width="1.1"/>
<circle cx="386.90" cy="137.20" r="2.5" fill="none" fill-opacity="0.9" stroke="#f06a5a" stroke-width="1.1"/>
<circle cx="388.80" cy="135.12" r="2.5" fill="none" fill-opacity="0.9" stroke="#f06a5a" stroke-width="1.1"/>
<circle cx="390.70" cy="133.04" r="2.5" fill="none" fill-opacity="0.9" stroke="#f06a5a" stroke-width="1.1"/>
<circle cx="392.60" cy="130.95" r="2.5" fill="none" fill-opacity="0.9" stroke="#f06a5a" stroke-width="1.1"/>
<circle cx="394.50" cy="128.86" r="2.5" fill="none" fill-opacity="0.9" stroke="#f06a5a" stroke-width="1.1"/>
<circle cx="396.40" cy="126.77" r="2.5" fill="none" fill-opacity="0.9" stroke="#f06a5a" stroke-width="1.1"/>
<circle cx="398.30" cy="124.68" r="2.5" fill="none" fill-opacity="0.9" stroke="#f06a5a" stroke-width="1.1"/>
<circle cx="400.20" cy="122.59" r="2.5" fill="none" fill-opacity="0.9" stroke="#f06a5a" stroke-width="1.1"/>
<circle cx="402.10" cy="120.50" r="2.5" fill="none" fill-opacity="0.9" stroke="#f06a5a" stroke-width="1.1"/>
<circle cx="404.00" cy="118.41" r="2.5" fill="none" fill-opacity="0.9" stroke="#f06a5a" stroke-width="1.1"/>
<circle cx="405.90" cy="116.32" r="2.5" fill="none" fill-opacity="0.9" stroke="#f06a5a" stroke-width="1.1"/>
<circle cx="407.80" cy="114.23" r="2.5" fill="none" fill-opacity="0.9" stroke="#f06a5a" stroke-width="1.1"/>
<circle cx="409.70" cy="112.14" r="2.5" fill="none" fill-opacity="0.9" stroke="#f06a5a" stroke-width="1.1"/>
<circle cx="411.60" cy="110.05" r="2.5" fill="none" fill-opacity="0.9" stroke="#f06a5a" stroke-width="1.1"/>
<circle cx="413.50" cy="107.96" r="2.5" fill="none" fill-opacity="0.9" stroke="#f06a5a" stroke-width="1.1"/>
<circle cx="415.40" cy="105.87" r="2.5" fill="none" fill-opacity="0.9" stroke="#f06a5a" stroke-width="1.1"/>
<circle cx="417.30" cy="103.78" r="2.5" fill="none" fill-opacity="0.9" stroke="#f06a5a" stroke-width="1.1"/>
<circle cx="419.20" cy="101.69" r="2.5" fill="none" fill-opacity="0.9" stroke="#f06a5a" stroke-width="1.1"/>
<circle cx="421.10" cy="99.60" r="2.5" fill="none" fill-opacity="0.9" stroke="#f06a5a" stroke-width="1.1"/>
<circle cx="423.00" cy="97.51" r="2.5" fill="none" fill-opacity="0.9" stroke="#f06a5a" stroke-width="1.1"/>
<circle cx="424.90" cy="95.42" r="2.5" fill="none" fill-opacity="0.9" stroke="#f06a5a" stroke-width="1.1"/>
<line x1="371.7" y1="156.25" x2="428" y2="156.25" stroke="#333" stroke-width="0.9" />
<line x1="371.7" y1="156.25" x2="428" y2="94.31999999999998" stroke="#333" stroke-width="0.9" />
<circle cx="365.7" cy="156.25" r="2" fill="#111"/>
<circle cx="371.7" cy="156.25" r="2" fill="#e8372c"/>
<circle cx="386" cy="166.3" r="2.2" fill="#fff" stroke="#ef6a58" stroke-width="1"/>
<text x="392.5" y="169.5" font-size="8.6" fill="#e8372c" >MC-IGZO</text>
<circle cx="386" cy="179.5" r="2.2" fill="#fff" stroke="#333" stroke-width="1"/>
<text x="392.5" y="182.7" font-size="8.6" fill="#333" >LC-IGZO</text>
<text x="403.5" y="141.5" font-size="8.5" fill="#333" >at V<tspan dy="2" font-size="6.5">DS</tspan></text>
<text x="403.5" y="150.8" font-size="8.5" fill="#333" >= 0.5V</text>
<text x="446.3" y="12.2" font-size="13" fill="#2a2a2a" font-weight="bold" textLength="9.8" lengthAdjust="spacingAndGlyphs" stroke="#2a2a2a" stroke-width="0.55">D</text>
<defs><linearGradient id="gD" x1="0" y1="0" x2="0" y2="1">
<stop offset="0" stop-color="#80cfdf"/><stop offset="0.45" stop-color="#66bfd2"/><stop offset="1" stop-color="#2a8ba5"/>
</linearGradient></defs>
<rect x="486" y="83.6" width="73" height="71.6" fill="#a6dde6"/>
<rect x="525.9" y="155.2" width="33.10000000000002" height="33.10000000000002" fill="#a6dde6"/>
<path d="M486,83.6 L558,83.6 L526.6,155.2 L486,155.2 Z" fill="url(#gD)"/>
<path d="M486.00,83.60 L604.50,83.60 L637.00,233.50 L646.00,234.50" fill="none" stroke="#a9d3d8" stroke-width="4.2" stroke-linejoin="round"/>
<path d="M486.00,83.60 L604.50,83.60 L637.00,233.50 L646.00,234.50" fill="none" stroke="#e8f6f7" stroke-width="0.9" stroke-dasharray="1.2,1.4"/>
<path d="M486.00,155.20 L606.00,155.20 L636.00,340.50 L645.00,341.00" fill="none" stroke="#a9d3d8" stroke-width="4.2" stroke-linejoin="round"/>
<path d="M486.00,155.20 L606.00,155.20 L636.00,340.50 L645.00,341.00" fill="none" stroke="#e8f6f7" stroke-width="0.9" stroke-dasharray="1.2,1.4"/>
<line x1="486" y1="8" x2="486" y2="188.8" stroke="#4a4040" stroke-width="1" />
<line x1="485.5" y1="188.3" x2="605.5" y2="188.3" stroke="#4a4040" stroke-width="1" />
<line x1="483" y1="11.25" x2="486" y2="11.25" stroke="#4a4040" stroke-width="1" />
<line x1="484.2" y1="27.97635220376093" x2="486" y2="27.97635220376093" stroke="#4a4040" stroke-width="0.8" />
<line x1="484.2" y1="23.76248837455848" x2="486" y2="23.76248837455848" stroke="#4a4040" stroke-width="0.8" />
<line x1="484.2" y1="20.772704407521857" x2="486" y2="20.772704407521857" stroke="#4a4040" stroke-width="0.8" />
<line x1="484.2" y1="18.453647796239068" x2="486" y2="18.453647796239068" stroke="#4a4040" stroke-width="0.8" />
<line x1="484.2" y1="16.55884057831941" x2="486" y2="16.55884057831941" stroke="#4a4040" stroke-width="0.8" />
<line x1="484.2" y1="14.956803902458834" x2="486" y2="14.956803902458834" stroke="#4a4040" stroke-width="0.8" />
<line x1="484.2" y1="13.569056611282791" x2="486" y2="13.569056611282791" stroke="#4a4040" stroke-width="0.8" />
<line x1="484.2" y1="12.344976749116956" x2="486" y2="12.344976749116956" stroke="#4a4040" stroke-width="0.8" />
<line x1="483" y1="35.18" x2="486" y2="35.18" stroke="#4a4040" stroke-width="1" />
<line x1="484.2" y1="51.90635220376093" x2="486" y2="51.90635220376093" stroke="#4a4040" stroke-width="0.8" />
<line x1="484.2" y1="47.69248837455848" x2="486" y2="47.69248837455848" stroke="#4a4040" stroke-width="0.8" />
<line x1="484.2" y1="44.70270440752186" x2="486" y2="44.70270440752186" stroke="#4a4040" stroke-width="0.8" />
<line x1="484.2" y1="42.38364779623907" x2="486" y2="42.38364779623907" stroke="#4a4040" stroke-width="0.8" />
<line x1="484.2" y1="40.488840578319405" x2="486" y2="40.488840578319405" stroke="#4a4040" stroke-width="0.8" />
<line x1="484.2" y1="38.88680390245884" x2="486" y2="38.88680390245884" stroke="#4a4040" stroke-width="0.8" />
<line x1="484.2" y1="37.49905661128279" x2="486" y2="37.49905661128279" stroke="#4a4040" stroke-width="0.8" />
<line x1="484.2" y1="36.27497674911695" x2="486" y2="36.27497674911695" stroke="#4a4040" stroke-width="0.8" />
<line x1="483" y1="59.11" x2="486" y2="59.11" stroke="#4a4040" stroke-width="1" />
<line x1="484.2" y1="75.83635220376092" x2="486" y2="75.83635220376092" stroke="#4a4040" stroke-width="0.8" />
<line x1="484.2" y1="71.62248837455849" x2="486" y2="71.62248837455849" stroke="#4a4040" stroke-width="0.8" />
<line x1="484.2" y1="68.63270440752186" x2="486" y2="68.63270440752186" stroke="#4a4040" stroke-width="0.8" />
<line x1="484.2" y1="66.31364779623907" x2="486" y2="66.31364779623907" stroke="#4a4040" stroke-width="0.8" />
<line x1="484.2" y1="64.4188405783194" x2="486" y2="64.4188405783194" stroke="#4a4040" stroke-width="0.8" />
<line x1="484.2" y1="62.81680390245884" x2="486" y2="62.81680390245884" stroke="#4a4040" stroke-width="0.8" />
<line x1="484.2" y1="61.42905661128279" x2="486" y2="61.42905661128279" stroke="#4a4040" stroke-width="0.8" />
<line x1="484.2" y1="60.20497674911695" x2="486" y2="60.20497674911695" stroke="#4a4040" stroke-width="0.8" />
<line x1="483" y1="83.03999999999999" x2="486" y2="83.03999999999999" stroke="#4a4040" stroke-width="1" />
<line x1="484.2" y1="99.76635220376092" x2="486" y2="99.76635220376092" stroke="#4a4040" stroke-width="0.8" />
<line x1="484.2" y1="95.55248837455846" x2="486" y2="95.55248837455846" stroke="#4a4040" stroke-width="0.8" />
<line x1="484.2" y1="92.56270440752185" x2="486" y2="92.56270440752185" stroke="#4a4040" stroke-width="0.8" />
<line x1="484.2" y1="90.24364779623906" x2="486" y2="90.24364779623906" stroke="#4a4040" stroke-width="0.8" />
<line x1="484.2" y1="88.3488405783194" x2="486" y2="88.3488405783194" stroke="#4a4040" stroke-width="0.8" />
<line x1="484.2" y1="86.74680390245882" x2="486" y2="86.74680390245882" stroke="#4a4040" stroke-width="0.8" />
<line x1="484.2" y1="85.35905661128278" x2="486" y2="85.35905661128278" stroke="#4a4040" stroke-width="0.8" />
<line x1="484.2" y1="84.13497674911694" x2="486" y2="84.13497674911694" stroke="#4a4040" stroke-width="0.8" />
<line x1="483" y1="106.97" x2="486" y2="106.97" stroke="#4a4040" stroke-width="1" />
<line x1="484.2" y1="123.69635220376092" x2="486" y2="123.69635220376092" stroke="#4a4040" stroke-width="0.8" />
<line x1="484.2" y1="119.48248837455847" x2="486" y2="119.48248837455847" stroke="#4a4040" stroke-width="0.8" />
<line x1="484.2" y1="116.49270440752186" x2="486" y2="116.49270440752186" stroke="#4a4040" stroke-width="0.8" />
<line x1="484.2" y1="114.17364779623907" x2="486" y2="114.17364779623907" stroke="#4a4040" stroke-width="0.8" />
<line x1="484.2" y1="112.2788405783194" x2="486" y2="112.2788405783194" stroke="#4a4040" stroke-width="0.8" />
<line x1="484.2" y1="110.67680390245883" x2="486" y2="110.67680390245883" stroke="#4a4040" stroke-width="0.8" />
<line x1="484.2" y1="109.28905661128279" x2="486" y2="109.28905661128279" stroke="#4a4040" stroke-width="0.8" />
<line x1="484.2" y1="108.06497674911695" x2="486" y2="108.06497674911695" stroke="#4a4040" stroke-width="0.8" />
<line x1="483" y1="130.9" x2="486" y2="130.9" stroke="#4a4040" stroke-width="1" />
<line x1="484.2" y1="147.62635220376094" x2="486" y2="147.62635220376094" stroke="#4a4040" stroke-width="0.8" />
<line x1="484.2" y1="143.41248837455848" x2="486" y2="143.41248837455848" stroke="#4a4040" stroke-width="0.8" />
<line x1="484.2" y1="140.42270440752188" x2="486" y2="140.42270440752188" stroke="#4a4040" stroke-width="0.8" />
<line x1="484.2" y1="138.10364779623907" x2="486" y2="138.10364779623907" stroke="#4a4040" stroke-width="0.8" />
<line x1="484.2" y1="136.2088405783194" x2="486" y2="136.2088405783194" stroke="#4a4040" stroke-width="0.8" />
<line x1="484.2" y1="134.60680390245884" x2="486" y2="134.60680390245884" stroke="#4a4040" stroke-width="0.8" />
<line x1="484.2" y1="133.2190566112828" x2="486" y2="133.2190566112828" stroke="#4a4040" stroke-width="0.8" />
<line x1="484.2" y1="131.99497674911697" x2="486" y2="131.99497674911697" stroke="#4a4040" stroke-width="0.8" />
<line x1="483" y1="154.82999999999998" x2="486" y2="154.82999999999998" stroke="#4a4040" stroke-width="1" />
<line x1="484.2" y1="171.55635220376092" x2="486" y2="171.55635220376092" stroke="#4a4040" stroke-width="0.8" />
<line x1="484.2" y1="167.34248837455846" x2="486" y2="167.34248837455846" stroke="#4a4040" stroke-width="0.8" />
<line x1="484.2" y1="164.35270440752186" x2="486" y2="164.35270440752186" stroke="#4a4040" stroke-width="0.8" />
<line x1="484.2" y1="162.03364779623905" x2="486" y2="162.03364779623905" stroke="#4a4040" stroke-width="0.8" />
<line x1="484.2" y1="160.1388405783194" x2="486" y2="160.1388405783194" stroke="#4a4040" stroke-width="0.8" />
<line x1="484.2" y1="158.53680390245881" x2="486" y2="158.53680390245881" stroke="#4a4040" stroke-width="0.8" />
<line x1="484.2" y1="157.1490566112828" x2="486" y2="157.1490566112828" stroke="#4a4040" stroke-width="0.8" />
<line x1="484.2" y1="155.92497674911695" x2="486" y2="155.92497674911695" stroke="#4a4040" stroke-width="0.8" />
<line x1="483" y1="178.76" x2="486" y2="178.76" stroke="#4a4040" stroke-width="1" />
<line x1="484.2" y1="188.28270440752186" x2="486" y2="188.28270440752186" stroke="#4a4040" stroke-width="0.8" />
<line x1="484.2" y1="185.96364779623906" x2="486" y2="185.96364779623906" stroke="#4a4040" stroke-width="0.8" />
<line x1="484.2" y1="184.0688405783194" x2="486" y2="184.0688405783194" stroke="#4a4040" stroke-width="0.8" />
<line x1="484.2" y1="182.46680390245882" x2="486" y2="182.46680390245882" stroke="#4a4040" stroke-width="0.8" />
<line x1="484.2" y1="181.0790566112828" x2="486" y2="181.0790566112828" stroke="#4a4040" stroke-width="0.8" />
<line x1="484.2" y1="179.85497674911696" x2="486" y2="179.85497674911696" stroke="#4a4040" stroke-width="0.8" />
<line x1="486.4" y1="188.3" x2="486.4" y2="191.3" stroke="#4a4040" stroke-width="1" />
<line x1="506.15" y1="188.3" x2="506.15" y2="190.3" stroke="#4a4040" stroke-width="1" />
<line x1="525.9" y1="188.3" x2="525.9" y2="191.3" stroke="#4a4040" stroke-width="1" />
<line x1="545.65" y1="188.3" x2="545.65" y2="190.3" stroke="#4a4040" stroke-width="1" />
<line x1="565.4" y1="188.3" x2="565.4" y2="191.3" stroke="#4a4040" stroke-width="1" />
<line x1="585.15" y1="188.3" x2="585.15" y2="190.3" stroke="#4a4040" stroke-width="1" />
<line x1="604.9" y1="188.3" x2="604.9" y2="191.3" stroke="#4a4040" stroke-width="1" />
<text x="481.5" y="15.05" font-size="10.3" fill="#555" text-anchor="end" >10<tspan dy="-4.2" font-size="6">-8</tspan></text>
<text x="481.5" y="38.98" font-size="10.3" fill="#555" text-anchor="end" >10<tspan dy="-4.2" font-size="6">-9</tspan></text>
<text x="481.5" y="62.91" font-size="10.3" fill="#555" text-anchor="end" >10<tspan dy="-4.2" font-size="6">-10</tspan></text>
<text x="481.5" y="86.83999999999999" font-size="10.3" fill="#555" text-anchor="end" >10<tspan dy="-4.2" font-size="6">-11</tspan></text>
<text x="481.5" y="110.77" font-size="10.3" fill="#555" text-anchor="end" >10<tspan dy="-4.2" font-size="6">-12</tspan></text>
<text x="481.5" y="134.70000000000002" font-size="10.3" fill="#555" text-anchor="end" >10<tspan dy="-4.2" font-size="6">-13</tspan></text>
<text x="481.5" y="158.63" font-size="10.3" fill="#555" text-anchor="end" >10<tspan dy="-4.2" font-size="6">-14</tspan></text>
<text x="481.5" y="182.56" font-size="10.3" fill="#555" text-anchor="end" >10<tspan dy="-4.2" font-size="6">-15</tspan></text>
<text x="485.5" y="10" font-size="9" fill="#555" >2×</text>
<text x="486.4" y="201.5" font-size="9.6" fill="#555" text-anchor="middle" >-1</text>
<text x="525.9" y="201.5" font-size="9.6" fill="#555" text-anchor="middle" >0</text>
<text x="565.4" y="201.5" font-size="9.6" fill="#555" text-anchor="middle" >1</text>
<text x="604.9" y="201.5" font-size="9.6" fill="#555" text-anchor="middle" >2</text>
<text x="531.5" y="214.5" font-size="10.5" fill="#555" >V<tspan dy="2" font-size="7.5">GS</tspan><tspan dy="-2"> (V)</tspan></text>
<text x="455.5" y="99.2" font-size="10.3" fill="#555" text-anchor="middle" textLength="96" lengthAdjust="spacingAndGlyphs" transform="rotate(-90 455.5 99.2)" >I<tspan dy="2" font-size="7.5">DS</tspan><tspan dy="-2"> / W, I</tspan><tspan dy="2" font-size="7.5">G</tspan><tspan dy="-2"> / W (A/μm)</tspan></text>
<path d="M484.00,163.90 C484.87,164.33 487.47,165.63 489.20,166.50 C490.93,167.37 492.95,165.63 494.40,169.10 C495.85,172.57 496.60,187.30 497.90,187.30 C499.20,187.30 500.75,172.85 502.20,169.10 C503.65,165.35 505.00,165.67 506.60,164.80 C508.20,163.93 509.77,163.62 511.80,163.90 C513.83,164.18 516.77,166.50 518.80,166.50 C520.83,166.50 521.98,164.33 524.00,163.90 C526.02,163.47 528.00,163.90 530.90,163.90 C533.80,163.90 538.22,163.90 541.40,163.90 C544.58,163.90 547.68,163.32 550.00,163.90 C552.32,164.48 553.55,164.37 555.30,167.40 C557.05,170.43 558.48,180.08 560.50,182.10 C562.52,184.12 565.23,178.78 567.40,179.50 C569.57,180.22 571.62,187.85 573.50,186.40 C575.38,184.95 576.82,174.55 578.70,170.80 C580.58,167.05 582.62,165.05 584.80,163.90 C586.98,162.75 589.48,163.75 591.80,163.90 C594.12,164.05 596.68,164.52 598.70,164.80 C600.72,165.08 603.03,165.47 603.90,165.60" fill="none" stroke="#a9aba9" stroke-width="1.2" stroke-linejoin="round"/>
<path d="M484.00,169.10 C485.30,171.98 489.77,186.68 491.80,186.40 C493.83,186.12 494.75,170.72 496.20,167.40 C497.65,164.08 498.92,165.93 500.50,166.50 C502.08,167.07 504.10,168.20 505.70,170.80 C507.30,173.40 508.65,181.80 510.10,182.10 C511.55,182.40 512.67,175.05 514.40,172.60 C516.13,170.15 518.62,167.12 520.50,167.40 C522.38,167.68 524.20,171.13 525.70,174.30 C527.20,177.47 528.05,187.27 529.50,186.40 C530.95,185.53 532.72,172.85 534.40,169.10 C536.08,165.35 537.87,163.18 539.60,163.90 C541.33,164.62 543.20,173.40 544.80,173.40 C546.40,173.40 547.75,165.63 549.20,163.90 C550.65,162.17 551.92,162.42 553.50,163.00 C555.08,163.58 556.67,167.25 558.70,167.40 C560.73,167.55 563.67,163.90 565.70,163.90 C567.73,163.90 569.45,165.52 570.90,167.40 C572.35,169.28 573.10,174.63 574.40,175.20 C575.70,175.77 576.97,172.68 578.70,170.80 C580.43,168.92 582.77,165.05 584.80,163.90 C586.83,162.75 589.17,163.03 590.90,163.90 C592.63,164.77 593.90,165.63 595.20,169.10 C596.50,172.57 597.25,184.42 598.70,184.70 C600.15,184.98 603.03,173.12 603.90,170.80" fill="none" stroke="#f28c92" stroke-width="1.2" stroke-linejoin="round"/>
<path d="M487.00,168.00 C487.45,169.50 488.87,176.00 489.70,177.00 C490.53,178.00 491.12,175.83 492.00,174.00 C492.88,172.17 493.75,169.13 495.00,166.00 C496.25,162.87 496.33,162.03 499.50,155.20 C502.67,148.37 509.25,134.20 514.00,125.00 C518.75,115.80 524.00,107.17 528.00,100.00 C532.00,92.83 534.33,88.00 538.00,82.00 C541.67,76.00 546.33,69.33 550.00,64.00 C553.67,58.67 556.67,54.17 560.00,50.00 C563.33,45.83 566.03,42.75 570.00,39.00 C573.97,35.25 579.63,30.67 583.80,27.50 C587.97,24.33 591.55,22.17 595.00,20.00 C598.45,17.83 602.92,15.42 604.50,14.50" fill="none" stroke="#1e1e1e" stroke-width="1.3"/>
<path d="M486.00,176.00 C486.53,177.33 488.20,183.67 489.20,184.00 C490.20,184.33 490.98,180.63 492.00,178.00 C493.02,175.37 494.13,170.03 495.30,168.20 C496.47,166.37 497.72,166.87 499.00,167.00 C500.28,167.13 501.67,167.83 503.00,169.00 C504.33,170.17 505.83,172.38 507.00,174.00 C508.17,175.62 508.77,178.65 510.00,178.70 C511.23,178.75 512.93,175.32 514.40,174.30 C515.87,173.28 517.37,173.65 518.80,172.60 C520.23,171.55 521.88,170.27 523.00,168.00 C524.12,165.73 524.90,161.13 525.50,159.00 C526.10,156.87 524.28,160.87 526.60,155.20 C528.92,149.53 535.40,134.20 539.40,125.00 C543.40,115.80 547.50,107.00 550.60,100.00 C553.70,93.00 555.43,88.67 558.00,83.00 C560.57,77.33 563.33,71.17 566.00,66.00 C568.67,60.83 571.33,56.00 574.00,52.00 C576.67,48.00 579.50,44.83 582.00,42.00 C584.50,39.17 587.03,36.78 589.00,35.00 C590.97,33.22 591.22,32.88 593.80,31.30 C596.38,29.72 602.72,26.47 604.50,25.50" fill="none" stroke="#e8372c" stroke-width="1.4"/>
<circle cx="499.4" cy="155.2" r="2" fill="#111"/>
<circle cx="526.6" cy="155.2" r="2" fill="#e8372c"/>
<circle cx="583.8" cy="27.5" r="2" fill="#111"/>
<circle cx="593.8" cy="31.3" r="2" fill="#e8372c"/>
<text x="492" y="134" font-size="9" fill="#222" >V<tspan dy="2" font-size="6.5">ref</tspan></text>
<text x="518.8" y="134" font-size="9" fill="#e8372c" >V<tspan dy="2" font-size="6.5">ref</tspan></text>
<line x1="499.2" y1="137" x2="499.2" y2="149.5" stroke="#222" stroke-width="0.9" />
<path d="M497.4,149.0 L501.0,149.0 L499.2,152.5 Z" fill="#222"/>
<line x1="526.4" y1="137" x2="526.4" y2="149.5" stroke="#e8372c" stroke-width="0.9" />
<path d="M524.6,149.0 L528.1999999999999,149.0 L526.4,152.5 Z" fill="#e8372c"/>
<path d="M518.8,112.6 L518.8,91.8 L527,91.8" fill="none" stroke="#555" stroke-width="0.9"/>
<path d="M526,89.9 L530,91.8 L526,93.7 Z" fill="#222"/>
<path d="M543.5,112.6 L543.5,91.8 L550.5,91.8" fill="none" stroke="#d66" stroke-width="0.9"/>
<path d="M549.5,89.9 L553.5,91.8 L549.5,93.7 Z" fill="#e8372c"/>
<text x="507.3" y="107" font-size="9.5" fill="#333" >SS</text>
<text x="532" y="107" font-size="9.5" fill="#e05a55" >SS</text>
<text x="572.8" y="15.8" font-size="9" fill="#222" >V<tspan dy="2" font-size="6.5">T</tspan></text>
<line x1="583.6" y1="9" x2="583.6" y2="22.2" stroke="#222" stroke-width="0.9" />
<path d="M581.8000000000001,21.7 L585.4,21.7 L583.6,25.2 Z" fill="#222"/>
<text x="583.3" y="52" font-size="9" fill="#e8372c" >V<tspan dy="2" font-size="6.5">T</tspan></text>
<line x1="594.2" y1="53" x2="594.2" y2="36.3" stroke="#e8372c" stroke-width="0.9" />
<path d="M592.4000000000001,36.8 L596.0,36.8 L594.2,33.3 Z" fill="#e8372c"/>
<line x1="491" y1="15" x2="507.5" y2="15" stroke="#e8372c" stroke-width="1.5" />
<text x="510" y="18" font-size="8.6" fill="#e8372c" >MC-IGZO</text>
<line x1="491" y1="28.8" x2="507.5" y2="28.8" stroke="#111" stroke-width="1.5" />
<text x="510" y="31.8" font-size="8.6" fill="#4a4a4a" >LC-IGZO</text>
<text x="492.5" y="59.6" font-size="8.5" fill="#3a3a3a" textLength="47" lengthAdjust="spacingAndGlyphs" >for L = 20μm</text>
<line x1="574" y1="86" x2="574" y2="153" stroke="#222" stroke-width="0.8" />
<path d="M572.2,89.5 L575.8,89.5 L574,85.3 Z" fill="#222"/>
<path d="M572.2,149.5 L575.8,149.5 L574,153.7 Z" fill="#222"/>
<text x="578" y="112" font-size="8.5" fill="#333" >deep</text>
<text x="578" y="122.5" font-size="8.5" fill="#333" >sub-T</text>
<text x="578" y="133" font-size="8.5" fill="#333" >regime</text>
<text x="580" y="183.5" font-size="8.8" fill="#333" >I<tspan dy="2" font-size="6.5">G</tspan><tspan dy="-2">/W</tspan></text>
<text x="370.3" y="235.2" font-size="13" fill="#2a2a2a" font-weight="bold" textLength="9" lengthAdjust="spacingAndGlyphs" stroke="#2a2a2a" stroke-width="0.55">E</text>
<line x1="409.3" y1="230.5" x2="409.3" y2="371.5" stroke="#4a4040" stroke-width="1.1" />
<line x1="408.8" y1="371" x2="587.6" y2="371" stroke="#4a4040" stroke-width="1" />
<line x1="587.6" y1="230.5" x2="587.6" y2="371.5" stroke="#2b9b9b" stroke-width="1" />
<line x1="406.3" y1="233.0" x2="409.3" y2="233.0" stroke="#4a4040" stroke-width="1" />
<line x1="407.5" y1="250.82373511056846" x2="409.3" y2="250.82373511056846" stroke="#4a4040" stroke-width="0.8" />
<line x1="407.5" y1="246.33340800464862" x2="409.3" y2="246.33340800464862" stroke="#4a4040" stroke-width="0.8" />
<line x1="407.5" y1="243.14747022113696" x2="409.3" y2="243.14747022113696" stroke="#4a4040" stroke-width="0.8" />
<line x1="407.5" y1="240.6762648894315" x2="409.3" y2="240.6762648894315" stroke="#4a4040" stroke-width="0.8" />
<line x1="407.5" y1="238.65714311521708" x2="409.3" y2="238.65714311521708" stroke="#4a4040" stroke-width="0.8" />
<line x1="407.5" y1="236.94999997963646" x2="409.3" y2="236.94999997963646" stroke="#4a4040" stroke-width="0.8" />
<line x1="407.5" y1="235.47120533170545" x2="409.3" y2="235.47120533170545" stroke="#4a4040" stroke-width="0.8" />
<line x1="407.5" y1="234.1668160092972" x2="409.3" y2="234.1668160092972" stroke="#4a4040" stroke-width="0.8" />
<line x1="406.3" y1="258.5" x2="409.3" y2="258.5" stroke="#4a4040" stroke-width="1" />
<line x1="407.5" y1="276.32373511056846" x2="409.3" y2="276.32373511056846" stroke="#4a4040" stroke-width="0.8" />
<line x1="407.5" y1="271.8334080046486" x2="409.3" y2="271.8334080046486" stroke="#4a4040" stroke-width="0.8" />
<line x1="407.5" y1="268.647470221137" x2="409.3" y2="268.647470221137" stroke="#4a4040" stroke-width="0.8" />
<line x1="407.5" y1="266.17626488943154" x2="409.3" y2="266.17626488943154" stroke="#4a4040" stroke-width="0.8" />
<line x1="407.5" y1="264.1571431152171" x2="409.3" y2="264.1571431152171" stroke="#4a4040" stroke-width="0.8" />
<line x1="407.5" y1="262.44999997963646" x2="409.3" y2="262.44999997963646" stroke="#4a4040" stroke-width="0.8" />
<line x1="407.5" y1="260.97120533170545" x2="409.3" y2="260.97120533170545" stroke="#4a4040" stroke-width="0.8" />
<line x1="407.5" y1="259.66681600929724" x2="409.3" y2="259.66681600929724" stroke="#4a4040" stroke-width="0.8" />
<line x1="406.3" y1="284.0" x2="409.3" y2="284.0" stroke="#4a4040" stroke-width="1" />
<line x1="407.5" y1="301.82373511056846" x2="409.3" y2="301.82373511056846" stroke="#4a4040" stroke-width="0.8" />
<line x1="407.5" y1="297.3334080046486" x2="409.3" y2="297.3334080046486" stroke="#4a4040" stroke-width="0.8" />
<line x1="407.5" y1="294.147470221137" x2="409.3" y2="294.147470221137" stroke="#4a4040" stroke-width="0.8" />
<line x1="407.5" y1="291.67626488943154" x2="409.3" y2="291.67626488943154" stroke="#4a4040" stroke-width="0.8" />
<line x1="407.5" y1="289.6571431152171" x2="409.3" y2="289.6571431152171" stroke="#4a4040" stroke-width="0.8" />
<line x1="407.5" y1="287.94999997963646" x2="409.3" y2="287.94999997963646" stroke="#4a4040" stroke-width="0.8" />
<line x1="407.5" y1="286.47120533170545" x2="409.3" y2="286.47120533170545" stroke="#4a4040" stroke-width="0.8" />
<line x1="407.5" y1="285.16681600929724" x2="409.3" y2="285.16681600929724" stroke="#4a4040" stroke-width="0.8" />
<line x1="406.3" y1="309.5" x2="409.3" y2="309.5" stroke="#4a4040" stroke-width="1" />
<line x1="407.5" y1="327.32373511056846" x2="409.3" y2="327.32373511056846" stroke="#4a4040" stroke-width="0.8" />
<line x1="407.5" y1="322.8334080046486" x2="409.3" y2="322.8334080046486" stroke="#4a4040" stroke-width="0.8" />
<line x1="407.5" y1="319.647470221137" x2="409.3" y2="319.647470221137" stroke="#4a4040" stroke-width="0.8" />
<line x1="407.5" y1="317.17626488943154" x2="409.3" y2="317.17626488943154" stroke="#4a4040" stroke-width="0.8" />
<line x1="407.5" y1="315.1571431152171" x2="409.3" y2="315.1571431152171" stroke="#4a4040" stroke-width="0.8" />
<line x1="407.5" y1="313.44999997963646" x2="409.3" y2="313.44999997963646" stroke="#4a4040" stroke-width="0.8" />
<line x1="407.5" y1="311.97120533170545" x2="409.3" y2="311.97120533170545" stroke="#4a4040" stroke-width="0.8" />
<line x1="407.5" y1="310.66681600929724" x2="409.3" y2="310.66681600929724" stroke="#4a4040" stroke-width="0.8" />
<line x1="406.3" y1="335.0" x2="409.3" y2="335.0" stroke="#4a4040" stroke-width="1" />
<line x1="407.5" y1="352.82373511056846" x2="409.3" y2="352.82373511056846" stroke="#4a4040" stroke-width="0.8" />
<line x1="407.5" y1="348.3334080046486" x2="409.3" y2="348.3334080046486" stroke="#4a4040" stroke-width="0.8" />
<line x1="407.5" y1="345.147470221137" x2="409.3" y2="345.147470221137" stroke="#4a4040" stroke-width="0.8" />
<line x1="407.5" y1="342.67626488943154" x2="409.3" y2="342.67626488943154" stroke="#4a4040" stroke-width="0.8" />
<line x1="407.5" y1="340.6571431152171" x2="409.3" y2="340.6571431152171" stroke="#4a4040" stroke-width="0.8" />
<line x1="407.5" y1="338.94999997963646" x2="409.3" y2="338.94999997963646" stroke="#4a4040" stroke-width="0.8" />
<line x1="407.5" y1="337.47120533170545" x2="409.3" y2="337.47120533170545" stroke="#4a4040" stroke-width="0.8" />
<line x1="407.5" y1="336.16681600929724" x2="409.3" y2="336.16681600929724" stroke="#4a4040" stroke-width="0.8" />
<line x1="406.3" y1="360.5" x2="409.3" y2="360.5" stroke="#4a4040" stroke-width="1" />
<line x1="407.5" y1="370.647470221137" x2="409.3" y2="370.647470221137" stroke="#4a4040" stroke-width="0.8" />
<line x1="407.5" y1="368.17626488943154" x2="409.3" y2="368.17626488943154" stroke="#4a4040" stroke-width="0.8" />
<line x1="407.5" y1="366.1571431152171" x2="409.3" y2="366.1571431152171" stroke="#4a4040" stroke-width="0.8" />
<line x1="407.5" y1="364.44999997963646" x2="409.3" y2="364.44999997963646" stroke="#4a4040" stroke-width="0.8" />
<line x1="407.5" y1="362.97120533170545" x2="409.3" y2="362.97120533170545" stroke="#4a4040" stroke-width="0.8" />
<line x1="407.5" y1="361.66681600929724" x2="409.3" y2="361.66681600929724" stroke="#4a4040" stroke-width="0.8" />
<line x1="409.3" y1="371" x2="409.3" y2="374" stroke="#4a4040" stroke-width="1" />
<line x1="453.85" y1="371" x2="453.85" y2="373" stroke="#4a4040" stroke-width="1" />
<line x1="498.4" y1="371" x2="498.4" y2="374" stroke="#4a4040" stroke-width="1" />
<line x1="542.95" y1="371" x2="542.95" y2="373" stroke="#4a4040" stroke-width="1" />
<line x1="587.5" y1="371" x2="587.5" y2="374" stroke="#4a4040" stroke-width="1" />
<text x="405.5" y="236.6" font-size="9.8" fill="#555" text-anchor="end" >10<tspan dy="-4.2" font-size="6">-8</tspan></text>
<text x="405.5" y="262.1" font-size="9.8" fill="#555" text-anchor="end" >10<tspan dy="-4.2" font-size="6">-9</tspan></text>
<text x="405.5" y="287.6" font-size="9.8" fill="#555" text-anchor="end" >10<tspan dy="-4.2" font-size="6">-10</tspan></text>
<text x="405.5" y="313.1" font-size="9.8" fill="#555" text-anchor="end" >10<tspan dy="-4.2" font-size="6">-11</tspan></text>
<text x="405.5" y="338.6" font-size="9.8" fill="#555" text-anchor="end" >10<tspan dy="-4.2" font-size="6">-12</tspan></text>
<text x="405.5" y="364.1" font-size="9.8" fill="#555" text-anchor="end" >10<tspan dy="-4.2" font-size="6">-13</tspan></text>
<text x="410" y="228.5" font-size="9" fill="#555" >2×</text>
<text x="409.3" y="383.5" font-size="9.6" fill="#555" text-anchor="middle" >0.0</text>
<text x="498.4" y="383.5" font-size="9.6" fill="#555" text-anchor="middle" >0.5</text>
<text x="587.5" y="383.5" font-size="9.6" fill="#555" text-anchor="middle" >1.0</text>
<text x="471.5" y="397.5" font-size="10.5" fill="#555" >V<tspan dy="2" font-size="7.5">GS</tspan><tspan dy="-2"> - V</tspan><tspan dy="2" font-size="7.5">ref</tspan><tspan dy="-2"> (V)</tspan></text>
<text x="379" y="297.5" font-size="10.3" fill="#555" text-anchor="middle" textLength="72" lengthAdjust="spacingAndGlyphs" transform="rotate(-90 379 297.5)" >g<tspan dy="2" font-size="7.5">m</tspan><tspan dy="-2"> / W (S/μm)</tspan></text>
<line x1="587.6" y1="370.4" x2="590.6" y2="370.4" stroke="#2b9b9b" stroke-width="1" />
<text x="594.5" y="373.7" font-size="9.6" fill="#2b9b9b" text-anchor="middle" >0</text>
<line x1="587.6" y1="354.96999999999997" x2="589.6" y2="354.96999999999997" stroke="#2b9b9b" stroke-width="1" />
<line x1="587.6" y1="339.53999999999996" x2="590.6" y2="339.53999999999996" stroke="#2b9b9b" stroke-width="1" />
<text x="594.5" y="342.84" font-size="9.6" fill="#2b9b9b" text-anchor="middle" >2</text>
<line x1="587.6" y1="324.10999999999996" x2="589.6" y2="324.10999999999996" stroke="#2b9b9b" stroke-width="1" />
<line x1="587.6" y1="308.67999999999995" x2="590.6" y2="308.67999999999995" stroke="#2b9b9b" stroke-width="1" />
<text x="594.5" y="311.97999999999996" font-size="9.6" fill="#2b9b9b" text-anchor="middle" >4</text>
<line x1="587.6" y1="293.25" x2="589.6" y2="293.25" stroke="#2b9b9b" stroke-width="1" />
<line x1="587.6" y1="277.82" x2="590.6" y2="277.82" stroke="#2b9b9b" stroke-width="1" />
<text x="594.5" y="281.12" font-size="9.6" fill="#2b9b9b" text-anchor="middle" >6</text>
<line x1="587.6" y1="262.39" x2="589.6" y2="262.39" stroke="#2b9b9b" stroke-width="1" />
<line x1="587.6" y1="246.95999999999998" x2="590.6" y2="246.95999999999998" stroke="#2b9b9b" stroke-width="1" />
<text x="594.5" y="250.26" font-size="9.6" fill="#2b9b9b" text-anchor="middle" >8</text>
<text x="610.5" y="302" font-size="10.3" fill="#2b9b9b" text-anchor="middle" transform="rotate(-90 610.5 302)" >Ratio</text>
<path d="M409.30,338.70 C412.75,337.58 423.22,334.37 430.00,332.00 C436.78,329.63 443.33,327.08 450.00,324.50 C456.67,321.92 464.67,319.00 470.00,316.50 C475.33,314.00 478.33,312.08 482.00,309.50 C485.67,306.92 488.67,304.08 492.00,301.00 C495.33,297.92 498.83,294.08 502.00,291.00 C505.17,287.92 508.00,284.92 511.00,282.50 C514.00,280.08 516.83,278.17 520.00,276.50 C523.17,274.83 525.83,273.92 530.00,272.50 C534.17,271.08 540.00,269.75 545.00,268.00 C550.00,266.25 555.00,264.33 560.00,262.00 C565.00,259.67 570.40,256.83 575.00,254.00 C579.60,251.17 585.50,246.50 587.60,245.00" fill="none" stroke="#2b9b9b" stroke-width="1.4"/>
<path d="M409.30,362.30 C412.75,360.58 423.22,356.22 430.00,352.00 C436.78,347.78 443.33,341.45 450.00,337.00 C456.67,332.55 463.33,329.22 470.00,325.30 C476.67,321.38 483.33,317.30 490.00,313.50 C496.67,309.70 503.33,306.08 510.00,302.50 C516.67,298.92 523.33,295.25 530.00,292.00 C536.67,288.75 543.33,285.67 550.00,283.00 C556.67,280.33 563.73,278.20 570.00,276.00 C576.27,273.80 584.67,270.83 587.60,269.80" fill="none" stroke="#f04a30" stroke-width="1.4"/>
<path d="M409.30,370.70 C411.92,369.25 419.88,364.53 425.00,362.00 C430.12,359.47 434.17,358.00 440.00,355.50 C445.83,353.00 453.33,349.92 460.00,347.00 C466.67,344.08 473.33,340.83 480.00,338.00 C486.67,335.17 493.33,332.83 500.00,330.00 C506.67,327.17 513.33,324.08 520.00,321.00 C526.67,317.92 533.33,314.42 540.00,311.50 C546.67,308.58 552.07,306.50 560.00,303.50 C567.93,300.50 583.00,295.17 587.60,293.50" fill="none" stroke="#333" stroke-width="1.4"/>
<line x1="537" y1="269.2" x2="561.5" y2="269.2" stroke="#2b9b9b" stroke-width="0.9" />
<path d="M557.5,267.4 L562.0,269.2 L557.5,271.0 Z" fill="#2b9b9b"/>
<line x1="518" y1="289.6" x2="541.5" y2="289.6" stroke="#e8372c" stroke-width="0.9" />
<path d="M522,287.8 L517.5,289.6 L522,291.40000000000003 Z" fill="#e8372c"/>
<line x1="530" y1="306.6" x2="556" y2="306.6" stroke="#333" stroke-width="0.9" />
<path d="M534,304.8 L529.5,306.6 L534,308.40000000000003 Z" fill="#333"/>
<line x1="416" y1="237.5" x2="432.5" y2="237.5" stroke="#e8372c" stroke-width="1.5" />
<text x="435" y="240.7" font-size="8.6" fill="#e8372c" >MC-IGZO</text>
<line x1="416" y1="250.5" x2="432.5" y2="250.5" stroke="#111" stroke-width="1.5" />
<text x="435" y="253.7" font-size="8.6" fill="#4a4a4a" >LC-IGZO</text>
<text x="533" y="241.5" font-size="8.4" fill="#333" >at V<tspan dy="2" font-size="6.5">DS</tspan><tspan dy="-2"> = 0.5V</tspan></text>
<text x="534.5" y="367" font-size="8.4" fill="#333" >for L = 20μm</text>
<text x="417" y="285.5" font-size="12.5" fill="#555" font-style="italic" style="font-family:'Liberation Serif', serif" >g</text>
<text x="423.3" y="285.8" font-size="9" fill="#555" font-style="italic" style="font-family:'Liberation Serif', serif" >m</text>
<text x="433.5" y="286" font-size="12" fill="#555" style="font-family:'Liberation Serif', serif" >=</text>
<text x="444.7" y="277.2" font-size="11.5" fill="#555" font-style="italic" style="font-family:'Liberation Serif', serif" >∂I</text>
<text x="454.5" y="278.8" font-size="8.5" fill="#555" font-style="italic" style="font-family:'Liberation Serif', serif" >DS</text>
<line x1="444.7" y1="280.3" x2="465.2" y2="280.3" stroke="#666" stroke-width="0.9" />
<text x="444.7" y="289.8" font-size="11.5" fill="#555" font-style="italic" style="font-family:'Liberation Serif', serif" >∂V</text>
<text x="456.8" y="291.4" font-size="8.5" fill="#555" font-style="italic" style="font-family:'Liberation Serif', serif" >GS</text>
<text x="624.8" y="13.2" font-size="13.5" fill="#2a2a2a" font-weight="bold" textLength="9.6" lengthAdjust="spacingAndGlyphs" stroke="#2a2a2a" stroke-width="0.55">F</text>
<defs><linearGradient id="gF" x1="0" y1="0" x2="0" y2="1"><stop offset="0.0000" stop-color="#c47f9a"/><stop offset="0.0387" stop-color="#d981ad"/><stop offset="0.0981" stop-color="#f27dbf"/><stop offset="0.1626" stop-color="#f682b2"/><stop offset="0.2271" stop-color="#f78b96"/><stop offset="0.2916" stop-color="#f89c86"/><stop offset="0.3561" stop-color="#f7b37e"/><stop offset="0.4155" stop-color="#f6c97a"/><stop offset="0.4774" stop-color="#f2dd7e"/><stop offset="0.5290" stop-color="#e3e07f"/><stop offset="0.5703" stop-color="#c0d986"/><stop offset="0.6065" stop-color="#92cb93"/><stop offset="0.6452" stop-color="#72bea8"/><stop offset="0.6839" stop-color="#67afbb"/><stop offset="0.7355" stop-color="#699bc9"/><stop offset="0.8077" stop-color="#6585c7"/><stop offset="0.9110" stop-color="#5e75c0"/><stop offset="1.0000" stop-color="#5a6bbc"/></linearGradient></defs>
<rect x="641" y="7" width="80.5" height="387.5" fill="url(#gF)"/>
<line x1="670.5" y1="23" x2="670.5" y2="376.5" stroke="#222" stroke-width="1" />
<line x1="666.5" y1="24.5" x2="670.5" y2="24.5" stroke="#222" stroke-width="1.1" />
<text x="665.0" y="27.8" font-size="9.3" fill="#333" text-anchor="end" >10μ</text>
<line x1="668.3" y1="49.068795652411055" x2="670.5" y2="49.068795652411055" stroke="#222" stroke-width="0.8" />
<line x1="668.3" y1="42.87918789660387" x2="670.5" y2="42.87918789660387" stroke="#222" stroke-width="0.8" />
<line x1="668.3" y1="38.48759130482212" x2="670.5" y2="38.48759130482212" stroke="#222" stroke-width="0.8" />
<line x1="668.3" y1="35.08120434758894" x2="670.5" y2="35.08120434758894" stroke="#222" stroke-width="0.8" />
<line x1="668.3" y1="32.29798354901493" x2="670.5" y2="32.29798354901493" stroke="#222" stroke-width="0.8" />
<line x1="668.3" y1="29.94480389349887" x2="670.5" y2="29.94480389349887" stroke="#222" stroke-width="0.8" />
<line x1="668.3" y1="27.906386957233185" x2="670.5" y2="27.906386957233185" stroke="#222" stroke-width="0.8" />
<line x1="668.3" y1="26.10837579320773" x2="670.5" y2="26.10837579320773" stroke="#222" stroke-width="0.8" />
<line x1="666.5" y1="59.65" x2="670.5" y2="59.65" stroke="#222" stroke-width="1.1" />
<text x="665.0" y="62.949999999999996" font-size="9.3" fill="#333" text-anchor="end" >1μ</text>
<line x1="668.3" y1="84.21879565241106" x2="670.5" y2="84.21879565241106" stroke="#222" stroke-width="0.8" />
<line x1="668.3" y1="78.02918789660387" x2="670.5" y2="78.02918789660387" stroke="#222" stroke-width="0.8" />
<line x1="668.3" y1="73.63759130482212" x2="670.5" y2="73.63759130482212" stroke="#222" stroke-width="0.8" />
<line x1="668.3" y1="70.23120434758894" x2="670.5" y2="70.23120434758894" stroke="#222" stroke-width="0.8" />
<line x1="668.3" y1="67.44798354901492" x2="670.5" y2="67.44798354901492" stroke="#222" stroke-width="0.8" />
<line x1="668.3" y1="65.09480389349888" x2="670.5" y2="65.09480389349888" stroke="#222" stroke-width="0.8" />
<line x1="668.3" y1="63.05638695723319" x2="670.5" y2="63.05638695723319" stroke="#222" stroke-width="0.8" />
<line x1="668.3" y1="61.258375793207726" x2="670.5" y2="61.258375793207726" stroke="#222" stroke-width="0.8" />
<line x1="666.5" y1="94.8" x2="670.5" y2="94.8" stroke="#222" stroke-width="1.1" />
<text x="665.0" y="98.1" font-size="9.3" fill="#333" text-anchor="end" >100n</text>
<line x1="668.3" y1="119.36879565241105" x2="670.5" y2="119.36879565241105" stroke="#222" stroke-width="0.8" />
<line x1="668.3" y1="113.17918789660386" x2="670.5" y2="113.17918789660386" stroke="#222" stroke-width="0.8" />
<line x1="668.3" y1="108.78759130482212" x2="670.5" y2="108.78759130482212" stroke="#222" stroke-width="0.8" />
<line x1="668.3" y1="105.38120434758893" x2="670.5" y2="105.38120434758893" stroke="#222" stroke-width="0.8" />
<line x1="668.3" y1="102.59798354901493" x2="670.5" y2="102.59798354901493" stroke="#222" stroke-width="0.8" />
<line x1="668.3" y1="100.24480389349887" x2="670.5" y2="100.24480389349887" stroke="#222" stroke-width="0.8" />
<line x1="668.3" y1="98.20638695723318" x2="670.5" y2="98.20638695723318" stroke="#222" stroke-width="0.8" />
<line x1="668.3" y1="96.40837579320772" x2="670.5" y2="96.40837579320772" stroke="#222" stroke-width="0.8" />
<line x1="666.5" y1="129.95" x2="670.5" y2="129.95" stroke="#222" stroke-width="1.1" />
<text x="665.0" y="133.25" font-size="9.3" fill="#333" text-anchor="end" >10n</text>
<line x1="668.3" y1="154.51879565241106" x2="670.5" y2="154.51879565241106" stroke="#222" stroke-width="0.8" />
<line x1="668.3" y1="148.32918789660386" x2="670.5" y2="148.32918789660386" stroke="#222" stroke-width="0.8" />
<line x1="668.3" y1="143.93759130482212" x2="670.5" y2="143.93759130482212" stroke="#222" stroke-width="0.8" />
<line x1="668.3" y1="140.53120434758893" x2="670.5" y2="140.53120434758893" stroke="#222" stroke-width="0.8" />
<line x1="668.3" y1="137.74798354901492" x2="670.5" y2="137.74798354901492" stroke="#222" stroke-width="0.8" />
<line x1="668.3" y1="135.39480389349887" x2="670.5" y2="135.39480389349887" stroke="#222" stroke-width="0.8" />
<line x1="668.3" y1="133.35638695723318" x2="670.5" y2="133.35638695723318" stroke="#222" stroke-width="0.8" />
<line x1="668.3" y1="131.55837579320772" x2="670.5" y2="131.55837579320772" stroke="#222" stroke-width="0.8" />
<line x1="666.5" y1="165.1" x2="670.5" y2="165.1" stroke="#222" stroke-width="1.1" />
<text x="665.0" y="168.4" font-size="9.3" fill="#333" text-anchor="end" >1n</text>
<line x1="668.3" y1="189.66879565241106" x2="670.5" y2="189.66879565241106" stroke="#222" stroke-width="0.8" />
<line x1="668.3" y1="183.47918789660386" x2="670.5" y2="183.47918789660386" stroke="#222" stroke-width="0.8" />
<line x1="668.3" y1="179.08759130482213" x2="670.5" y2="179.08759130482213" stroke="#222" stroke-width="0.8" />
<line x1="668.3" y1="175.68120434758893" x2="670.5" y2="175.68120434758893" stroke="#222" stroke-width="0.8" />
<line x1="668.3" y1="172.89798354901492" x2="670.5" y2="172.89798354901492" stroke="#222" stroke-width="0.8" />
<line x1="668.3" y1="170.54480389349888" x2="670.5" y2="170.54480389349888" stroke="#222" stroke-width="0.8" />
<line x1="668.3" y1="168.5063869572332" x2="670.5" y2="168.5063869572332" stroke="#222" stroke-width="0.8" />
<line x1="668.3" y1="166.70837579320772" x2="670.5" y2="166.70837579320772" stroke="#222" stroke-width="0.8" />
<line x1="666.5" y1="200.25" x2="670.5" y2="200.25" stroke="#222" stroke-width="1.1" />
<text x="665.0" y="203.55" font-size="9.3" fill="#333" text-anchor="end" >100p</text>
<line x1="668.3" y1="224.81879565241107" x2="670.5" y2="224.81879565241107" stroke="#222" stroke-width="0.8" />
<line x1="668.3" y1="218.62918789660387" x2="670.5" y2="218.62918789660387" stroke="#222" stroke-width="0.8" />
<line x1="668.3" y1="214.23759130482213" x2="670.5" y2="214.23759130482213" stroke="#222" stroke-width="0.8" />
<line x1="668.3" y1="210.83120434758894" x2="670.5" y2="210.83120434758894" stroke="#222" stroke-width="0.8" />
<line x1="668.3" y1="208.04798354901493" x2="670.5" y2="208.04798354901493" stroke="#222" stroke-width="0.8" />
<line x1="668.3" y1="205.6948038934989" x2="670.5" y2="205.6948038934989" stroke="#222" stroke-width="0.8" />
<line x1="668.3" y1="203.6563869572332" x2="670.5" y2="203.6563869572332" stroke="#222" stroke-width="0.8" />
<line x1="668.3" y1="201.85837579320773" x2="670.5" y2="201.85837579320773" stroke="#222" stroke-width="0.8" />
<line x1="666.5" y1="235.39999999999998" x2="670.5" y2="235.39999999999998" stroke="#222" stroke-width="1.1" />
<text x="665.0" y="238.7" font-size="9.3" fill="#fff" text-anchor="end" >10p</text>
<line x1="668.3" y1="259.968795652411" x2="670.5" y2="259.968795652411" stroke="#222" stroke-width="0.8" />
<line x1="668.3" y1="253.77918789660384" x2="670.5" y2="253.77918789660384" stroke="#222" stroke-width="0.8" />
<line x1="668.3" y1="249.3875913048221" x2="670.5" y2="249.3875913048221" stroke="#222" stroke-width="0.8" />
<line x1="668.3" y1="245.9812043475889" x2="670.5" y2="245.9812043475889" stroke="#222" stroke-width="0.8" />
<line x1="668.3" y1="243.1979835490149" x2="670.5" y2="243.1979835490149" stroke="#222" stroke-width="0.8" />
<line x1="668.3" y1="240.84480389349886" x2="670.5" y2="240.84480389349886" stroke="#222" stroke-width="0.8" />
<line x1="668.3" y1="238.80638695723317" x2="670.5" y2="238.80638695723317" stroke="#222" stroke-width="0.8" />
<line x1="668.3" y1="237.0083757932077" x2="670.5" y2="237.0083757932077" stroke="#222" stroke-width="0.8" />
<line x1="666.5" y1="270.54999999999995" x2="670.5" y2="270.54999999999995" stroke="#222" stroke-width="1.1" />
<text x="665.0" y="273.84999999999997" font-size="9.3" fill="#fff" text-anchor="end" >1p</text>
<line x1="668.3" y1="295.118795652411" x2="670.5" y2="295.118795652411" stroke="#222" stroke-width="0.8" />
<line x1="668.3" y1="288.9291878966038" x2="670.5" y2="288.9291878966038" stroke="#222" stroke-width="0.8" />
<line x1="668.3" y1="284.53759130482206" x2="670.5" y2="284.53759130482206" stroke="#222" stroke-width="0.8" />
<line x1="668.3" y1="281.1312043475889" x2="670.5" y2="281.1312043475889" stroke="#222" stroke-width="0.8" />
<line x1="668.3" y1="278.3479835490149" x2="670.5" y2="278.3479835490149" stroke="#222" stroke-width="0.8" />
<line x1="668.3" y1="275.99480389349884" x2="670.5" y2="275.99480389349884" stroke="#222" stroke-width="0.8" />
<line x1="668.3" y1="273.9563869572331" x2="670.5" y2="273.9563869572331" stroke="#222" stroke-width="0.8" />
<line x1="668.3" y1="272.1583757932077" x2="670.5" y2="272.1583757932077" stroke="#222" stroke-width="0.8" />
<line x1="666.5" y1="305.7" x2="670.5" y2="305.7" stroke="#222" stroke-width="1.1" />
<text x="665.0" y="309.0" font-size="9.3" fill="#fff" text-anchor="end" >100f</text>
<line x1="668.3" y1="330.26879565241103" x2="670.5" y2="330.26879565241103" stroke="#222" stroke-width="0.8" />
<line x1="668.3" y1="324.07918789660386" x2="670.5" y2="324.07918789660386" stroke="#222" stroke-width="0.8" />
<line x1="668.3" y1="319.6875913048221" x2="670.5" y2="319.6875913048221" stroke="#222" stroke-width="0.8" />
<line x1="668.3" y1="316.2812043475889" x2="670.5" y2="316.2812043475889" stroke="#222" stroke-width="0.8" />
<line x1="668.3" y1="313.4979835490149" x2="670.5" y2="313.4979835490149" stroke="#222" stroke-width="0.8" />
<line x1="668.3" y1="311.1448038934989" x2="670.5" y2="311.1448038934989" stroke="#222" stroke-width="0.8" />
<line x1="668.3" y1="309.10638695723316" x2="670.5" y2="309.10638695723316" stroke="#222" stroke-width="0.8" />
<line x1="668.3" y1="307.30837579320774" x2="670.5" y2="307.30837579320774" stroke="#222" stroke-width="0.8" />
<line x1="666.5" y1="340.84999999999997" x2="670.5" y2="340.84999999999997" stroke="#222" stroke-width="1.1" />
<text x="665.0" y="344.15" font-size="9.3" fill="#fff" text-anchor="end" >10f</text>
<line x1="668.3" y1="365.418795652411" x2="670.5" y2="365.418795652411" stroke="#222" stroke-width="0.8" />
<line x1="668.3" y1="359.22918789660383" x2="670.5" y2="359.22918789660383" stroke="#222" stroke-width="0.8" />
<line x1="668.3" y1="354.83759130482207" x2="670.5" y2="354.83759130482207" stroke="#222" stroke-width="0.8" />
<line x1="668.3" y1="351.4312043475889" x2="670.5" y2="351.4312043475889" stroke="#222" stroke-width="0.8" />
<line x1="668.3" y1="348.6479835490149" x2="670.5" y2="348.6479835490149" stroke="#222" stroke-width="0.8" />
<line x1="668.3" y1="346.29480389349885" x2="670.5" y2="346.29480389349885" stroke="#222" stroke-width="0.8" />
<line x1="668.3" y1="344.25638695723313" x2="670.5" y2="344.25638695723313" stroke="#222" stroke-width="0.8" />
<line x1="668.3" y1="342.4583757932077" x2="670.5" y2="342.4583757932077" stroke="#222" stroke-width="0.8" />
<line x1="666.5" y1="376.0" x2="670.5" y2="376.0" stroke="#222" stroke-width="1.1" />
<text x="665.0" y="379.3" font-size="9.3" fill="#fff" text-anchor="end" >1f</text>
<text x="649" y="16.5" font-size="8.5" fill="#333" >2×</text>
<text x="674" y="16.5" font-size="8.8" fill="#222" >strong</text>
<text x="674" y="28" font-size="8.8" fill="#222" >ON-state</text>
<line x1="678.2" y1="30" x2="678.2" y2="232" stroke="#222" stroke-width="0.9" />
<path d="M676.3000000000001,145.9 L680.1,145.9 L678.2,149.5 Z" fill="#222"/>
<path d="M676.3000000000001,154.1 L680.1,154.1 L678.2,150.5 Z" fill="#222"/>
<path d="M676.3000000000001,169.4 L680.1,169.4 L678.2,173 Z" fill="#222"/>
<path d="M676.3000000000001,177.9 L680.1,177.9 L678.2,174.3 Z" fill="#222"/>
<path d="M676.3000000000001,229.4 L680.1,229.4 L678.2,233 Z" fill="#222"/>
<line x1="678.2" y1="238" x2="678.2" y2="375" stroke="#fff" stroke-width="1.1" />
<path d="M676.3000000000001,239.6 L680.1,239.6 L678.2,236 Z" fill="#fff"/>
<path d="M676.3000000000001,374.4 L680.1,374.4 L678.2,378 Z" fill="#fff"/>
<text x="691.5" y="86.5" font-size="9.6" fill="#333" text-anchor="middle" textLength="62" lengthAdjust="spacingAndGlyphs" transform="rotate(-90 691.5 86.5)" >above-T regime</text>
<text x="704" y="88.5" font-size="9.6" fill="#333" text-anchor="middle" textLength="41" lengthAdjust="spacingAndGlyphs" transform="rotate(-90 704 88.5)" >(ON-state)</text>
<text x="716.3" y="89" font-size="9" fill="#e8453a" text-anchor="middle" textLength="82" lengthAdjust="spacingAndGlyphs" transform="rotate(-90 716.3 89)" >for typical TFT circuits</text>
<text x="691.5" y="161.2" font-size="9.6" fill="#333" text-anchor="middle" textLength="17.5" lengthAdjust="spacingAndGlyphs" transform="rotate(-90 691.5 161.2)" >near</text>
<text x="704" y="163.7" font-size="9.6" fill="#333" text-anchor="middle" transform="rotate(-90 704 163.7)" >V<tspan dy="2" font-size="6.5">T</tspan></text>
<text x="691.5" y="203" font-size="9.6" fill="#333" text-anchor="middle" textLength="51" lengthAdjust="spacingAndGlyphs" transform="rotate(-90 691.5 203)" >sub-T regime</text>
<text x="704" y="203" font-size="9.6" fill="#333" text-anchor="middle" textLength="24" lengthAdjust="spacingAndGlyphs" transform="rotate(-90 704 203)" >begins</text>
<text x="716.8" y="187.5" font-size="9.2" fill="#333" text-anchor="middle" textLength="65" lengthAdjust="spacingAndGlyphs" transform="rotate(-90 716.8 187.5)" >(weak ON-state)</text>
<text x="690" y="306" font-size="9.6" fill="#fff" text-anchor="middle" font-weight="bold" textLength="84" lengthAdjust="spacingAndGlyphs" transform="rotate(-90 690 306)" >deep sub-T regime</text>
<text x="703.5" y="298" font-size="9.6" fill="#fff" text-anchor="middle" font-weight="bold" textLength="64" lengthAdjust="spacingAndGlyphs" transform="rotate(-90 703.5 298)" >(near-OFF-state)</text>
<text x="716" y="313" font-size="9" fill="#fff" text-anchor="middle" textLength="110" lengthAdjust="spacingAndGlyphs" transform="rotate(-90 716 313)" >for ultra low power TFT circuits</text>
<text x="675.5" y="386.5" font-size="9.6" fill="#fff" font-weight="bold" textLength="41.5" lengthAdjust="spacingAndGlyphs" >OFF-state</text>
<text x="632.5" y="53.6" font-size="10.5" fill="#444" text-anchor="middle" textLength="71" lengthAdjust="spacingAndGlyphs" transform="rotate(-90 632.5 53.6)" >P<tspan dy="2" font-size="7.5">out</tspan><tspan dy="-2"> / W (W/μm)</tspan></text>
</svg>
</body></html>
